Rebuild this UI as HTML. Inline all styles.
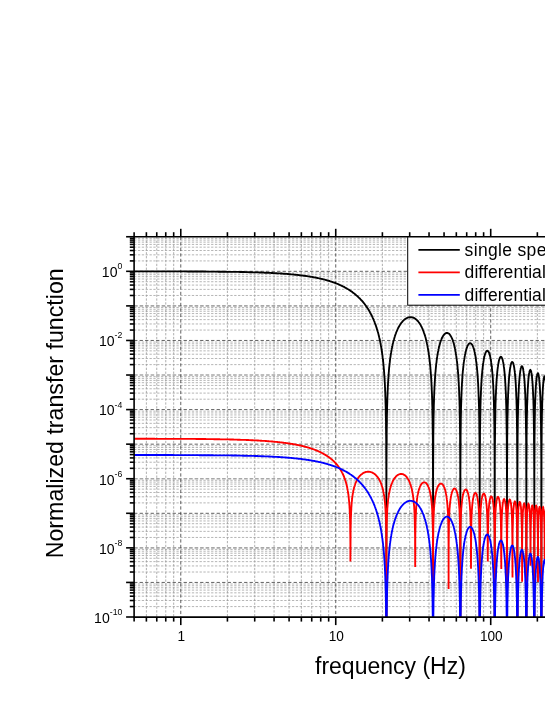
<!DOCTYPE html>
<html><head><meta charset="utf-8"><title>chart</title>
<style>
html,body{margin:0;padding:0;background:#fff;}
body{width:545px;height:705px;position:relative;overflow:hidden;font-family:"Liberation Sans",sans-serif;color:#000;}
.t{position:absolute;white-space:nowrap;line-height:1;}
.xl{font-size:13.3px;transform:translateX(-50%);top:629.5px;}
.yl{font-size:13.3px;text-align:right;right:422.5px;}
.yl sup{font-size:9px;vertical-align:baseline;position:relative;top:-5.5px;}
.lg{font-size:16.2px;left:464.3px;}
</style></head><body>
<svg width="545" height="705" viewBox="0 0 545 705" style="position:absolute;left:0;top:0">
<defs><clipPath id="c"><rect x="134.1" y="236.8" width="420" height="380.4"/></clipPath></defs>
<g shape-rendering="auto"><line x1="134.1" x2="545" y1="606.59" y2="606.59" stroke="#979797" stroke-width="0.7" stroke-dasharray="2.3 1.55"/><line x1="134.1" x2="545" y1="600.51" y2="600.51" stroke="#979797" stroke-width="0.7" stroke-dasharray="2.3 1.55"/><line x1="134.1" x2="545" y1="596.19" y2="596.19" stroke="#979797" stroke-width="0.7" stroke-dasharray="2.3 1.55"/><line x1="134.1" x2="545" y1="592.84" y2="592.84" stroke="#979797" stroke-width="0.7" stroke-dasharray="2.3 1.55"/><line x1="134.1" x2="545" y1="590.10" y2="590.10" stroke="#979797" stroke-width="0.7" stroke-dasharray="2.3 1.55"/><line x1="134.1" x2="545" y1="587.79" y2="587.79" stroke="#979797" stroke-width="0.7" stroke-dasharray="2.3 1.55"/><line x1="134.1" x2="545" y1="585.78" y2="585.78" stroke="#979797" stroke-width="0.7" stroke-dasharray="2.3 1.55"/><line x1="134.1" x2="545" y1="584.01" y2="584.01" stroke="#979797" stroke-width="0.7" stroke-dasharray="2.3 1.55"/><line x1="134.1" x2="545" y1="572.03" y2="572.03" stroke="#979797" stroke-width="0.7" stroke-dasharray="2.3 1.55"/><line x1="134.1" x2="545" y1="565.94" y2="565.94" stroke="#979797" stroke-width="0.7" stroke-dasharray="2.3 1.55"/><line x1="134.1" x2="545" y1="561.62" y2="561.62" stroke="#979797" stroke-width="0.7" stroke-dasharray="2.3 1.55"/><line x1="134.1" x2="545" y1="558.27" y2="558.27" stroke="#979797" stroke-width="0.7" stroke-dasharray="2.3 1.55"/><line x1="134.1" x2="545" y1="555.53" y2="555.53" stroke="#979797" stroke-width="0.7" stroke-dasharray="2.3 1.55"/><line x1="134.1" x2="545" y1="553.22" y2="553.22" stroke="#979797" stroke-width="0.7" stroke-dasharray="2.3 1.55"/><line x1="134.1" x2="545" y1="551.21" y2="551.21" stroke="#979797" stroke-width="0.7" stroke-dasharray="2.3 1.55"/><line x1="134.1" x2="545" y1="549.45" y2="549.45" stroke="#979797" stroke-width="0.7" stroke-dasharray="2.3 1.55"/><line x1="134.1" x2="545" y1="537.46" y2="537.46" stroke="#979797" stroke-width="0.7" stroke-dasharray="2.3 1.55"/><line x1="134.1" x2="545" y1="531.37" y2="531.37" stroke="#979797" stroke-width="0.7" stroke-dasharray="2.3 1.55"/><line x1="134.1" x2="545" y1="527.05" y2="527.05" stroke="#979797" stroke-width="0.7" stroke-dasharray="2.3 1.55"/><line x1="134.1" x2="545" y1="523.70" y2="523.70" stroke="#979797" stroke-width="0.7" stroke-dasharray="2.3 1.55"/><line x1="134.1" x2="545" y1="520.96" y2="520.96" stroke="#979797" stroke-width="0.7" stroke-dasharray="2.3 1.55"/><line x1="134.1" x2="545" y1="518.65" y2="518.65" stroke="#979797" stroke-width="0.7" stroke-dasharray="2.3 1.55"/><line x1="134.1" x2="545" y1="516.65" y2="516.65" stroke="#979797" stroke-width="0.7" stroke-dasharray="2.3 1.55"/><line x1="134.1" x2="545" y1="514.88" y2="514.88" stroke="#979797" stroke-width="0.7" stroke-dasharray="2.3 1.55"/><line x1="134.1" x2="545" y1="502.89" y2="502.89" stroke="#979797" stroke-width="0.7" stroke-dasharray="2.3 1.55"/><line x1="134.1" x2="545" y1="496.80" y2="496.80" stroke="#979797" stroke-width="0.7" stroke-dasharray="2.3 1.55"/><line x1="134.1" x2="545" y1="492.48" y2="492.48" stroke="#979797" stroke-width="0.7" stroke-dasharray="2.3 1.55"/><line x1="134.1" x2="545" y1="489.13" y2="489.13" stroke="#979797" stroke-width="0.7" stroke-dasharray="2.3 1.55"/><line x1="134.1" x2="545" y1="486.40" y2="486.40" stroke="#979797" stroke-width="0.7" stroke-dasharray="2.3 1.55"/><line x1="134.1" x2="545" y1="484.08" y2="484.08" stroke="#979797" stroke-width="0.7" stroke-dasharray="2.3 1.55"/><line x1="134.1" x2="545" y1="482.08" y2="482.08" stroke="#979797" stroke-width="0.7" stroke-dasharray="2.3 1.55"/><line x1="134.1" x2="545" y1="480.31" y2="480.31" stroke="#979797" stroke-width="0.7" stroke-dasharray="2.3 1.55"/><line x1="134.1" x2="545" y1="468.32" y2="468.32" stroke="#979797" stroke-width="0.7" stroke-dasharray="2.3 1.55"/><line x1="134.1" x2="545" y1="462.23" y2="462.23" stroke="#979797" stroke-width="0.7" stroke-dasharray="2.3 1.55"/><line x1="134.1" x2="545" y1="457.92" y2="457.92" stroke="#979797" stroke-width="0.7" stroke-dasharray="2.3 1.55"/><line x1="134.1" x2="545" y1="454.57" y2="454.57" stroke="#979797" stroke-width="0.7" stroke-dasharray="2.3 1.55"/><line x1="134.1" x2="545" y1="451.83" y2="451.83" stroke="#979797" stroke-width="0.7" stroke-dasharray="2.3 1.55"/><line x1="134.1" x2="545" y1="449.51" y2="449.51" stroke="#979797" stroke-width="0.7" stroke-dasharray="2.3 1.55"/><line x1="134.1" x2="545" y1="447.51" y2="447.51" stroke="#979797" stroke-width="0.7" stroke-dasharray="2.3 1.55"/><line x1="134.1" x2="545" y1="445.74" y2="445.74" stroke="#979797" stroke-width="0.7" stroke-dasharray="2.3 1.55"/><line x1="134.1" x2="545" y1="433.75" y2="433.75" stroke="#979797" stroke-width="0.7" stroke-dasharray="2.3 1.55"/><line x1="134.1" x2="545" y1="427.67" y2="427.67" stroke="#979797" stroke-width="0.7" stroke-dasharray="2.3 1.55"/><line x1="134.1" x2="545" y1="423.35" y2="423.35" stroke="#979797" stroke-width="0.7" stroke-dasharray="2.3 1.55"/><line x1="134.1" x2="545" y1="420.00" y2="420.00" stroke="#979797" stroke-width="0.7" stroke-dasharray="2.3 1.55"/><line x1="134.1" x2="545" y1="417.26" y2="417.26" stroke="#979797" stroke-width="0.7" stroke-dasharray="2.3 1.55"/><line x1="134.1" x2="545" y1="414.95" y2="414.95" stroke="#979797" stroke-width="0.7" stroke-dasharray="2.3 1.55"/><line x1="134.1" x2="545" y1="412.94" y2="412.94" stroke="#979797" stroke-width="0.7" stroke-dasharray="2.3 1.55"/><line x1="134.1" x2="545" y1="411.17" y2="411.17" stroke="#979797" stroke-width="0.7" stroke-dasharray="2.3 1.55"/><line x1="134.1" x2="545" y1="399.19" y2="399.19" stroke="#979797" stroke-width="0.7" stroke-dasharray="2.3 1.55"/><line x1="134.1" x2="545" y1="393.10" y2="393.10" stroke="#979797" stroke-width="0.7" stroke-dasharray="2.3 1.55"/><line x1="134.1" x2="545" y1="388.78" y2="388.78" stroke="#979797" stroke-width="0.7" stroke-dasharray="2.3 1.55"/><line x1="134.1" x2="545" y1="385.43" y2="385.43" stroke="#979797" stroke-width="0.7" stroke-dasharray="2.3 1.55"/><line x1="134.1" x2="545" y1="382.69" y2="382.69" stroke="#979797" stroke-width="0.7" stroke-dasharray="2.3 1.55"/><line x1="134.1" x2="545" y1="380.38" y2="380.38" stroke="#979797" stroke-width="0.7" stroke-dasharray="2.3 1.55"/><line x1="134.1" x2="545" y1="378.37" y2="378.37" stroke="#979797" stroke-width="0.7" stroke-dasharray="2.3 1.55"/><line x1="134.1" x2="545" y1="376.61" y2="376.61" stroke="#979797" stroke-width="0.7" stroke-dasharray="2.3 1.55"/><line x1="134.1" x2="545" y1="364.62" y2="364.62" stroke="#979797" stroke-width="0.7" stroke-dasharray="2.3 1.55"/><line x1="134.1" x2="545" y1="358.53" y2="358.53" stroke="#979797" stroke-width="0.7" stroke-dasharray="2.3 1.55"/><line x1="134.1" x2="545" y1="354.21" y2="354.21" stroke="#979797" stroke-width="0.7" stroke-dasharray="2.3 1.55"/><line x1="134.1" x2="545" y1="350.86" y2="350.86" stroke="#979797" stroke-width="0.7" stroke-dasharray="2.3 1.55"/><line x1="134.1" x2="545" y1="348.12" y2="348.12" stroke="#979797" stroke-width="0.7" stroke-dasharray="2.3 1.55"/><line x1="134.1" x2="545" y1="345.81" y2="345.81" stroke="#979797" stroke-width="0.7" stroke-dasharray="2.3 1.55"/><line x1="134.1" x2="545" y1="343.81" y2="343.81" stroke="#979797" stroke-width="0.7" stroke-dasharray="2.3 1.55"/><line x1="134.1" x2="545" y1="342.04" y2="342.04" stroke="#979797" stroke-width="0.7" stroke-dasharray="2.3 1.55"/><line x1="134.1" x2="545" y1="330.05" y2="330.05" stroke="#979797" stroke-width="0.7" stroke-dasharray="2.3 1.55"/><line x1="134.1" x2="545" y1="323.96" y2="323.96" stroke="#979797" stroke-width="0.7" stroke-dasharray="2.3 1.55"/><line x1="134.1" x2="545" y1="319.64" y2="319.64" stroke="#979797" stroke-width="0.7" stroke-dasharray="2.3 1.55"/><line x1="134.1" x2="545" y1="316.29" y2="316.29" stroke="#979797" stroke-width="0.7" stroke-dasharray="2.3 1.55"/><line x1="134.1" x2="545" y1="313.56" y2="313.56" stroke="#979797" stroke-width="0.7" stroke-dasharray="2.3 1.55"/><line x1="134.1" x2="545" y1="311.24" y2="311.24" stroke="#979797" stroke-width="0.7" stroke-dasharray="2.3 1.55"/><line x1="134.1" x2="545" y1="309.24" y2="309.24" stroke="#979797" stroke-width="0.7" stroke-dasharray="2.3 1.55"/><line x1="134.1" x2="545" y1="307.47" y2="307.47" stroke="#979797" stroke-width="0.7" stroke-dasharray="2.3 1.55"/><line x1="134.1" x2="545" y1="295.48" y2="295.48" stroke="#979797" stroke-width="0.7" stroke-dasharray="2.3 1.55"/><line x1="134.1" x2="545" y1="289.39" y2="289.39" stroke="#979797" stroke-width="0.7" stroke-dasharray="2.3 1.55"/><line x1="134.1" x2="545" y1="285.08" y2="285.08" stroke="#979797" stroke-width="0.7" stroke-dasharray="2.3 1.55"/><line x1="134.1" x2="545" y1="281.73" y2="281.73" stroke="#979797" stroke-width="0.7" stroke-dasharray="2.3 1.55"/><line x1="134.1" x2="545" y1="278.99" y2="278.99" stroke="#979797" stroke-width="0.7" stroke-dasharray="2.3 1.55"/><line x1="134.1" x2="545" y1="276.67" y2="276.67" stroke="#979797" stroke-width="0.7" stroke-dasharray="2.3 1.55"/><line x1="134.1" x2="545" y1="274.67" y2="274.67" stroke="#979797" stroke-width="0.7" stroke-dasharray="2.3 1.55"/><line x1="134.1" x2="545" y1="272.90" y2="272.90" stroke="#979797" stroke-width="0.7" stroke-dasharray="2.3 1.55"/><line x1="134.1" x2="545" y1="260.91" y2="260.91" stroke="#979797" stroke-width="0.7" stroke-dasharray="2.3 1.55"/><line x1="134.1" x2="545" y1="254.83" y2="254.83" stroke="#979797" stroke-width="0.7" stroke-dasharray="2.3 1.55"/><line x1="134.1" x2="545" y1="250.51" y2="250.51" stroke="#979797" stroke-width="0.7" stroke-dasharray="2.3 1.55"/><line x1="134.1" x2="545" y1="247.16" y2="247.16" stroke="#979797" stroke-width="0.7" stroke-dasharray="2.3 1.55"/><line x1="134.1" x2="545" y1="244.42" y2="244.42" stroke="#979797" stroke-width="0.7" stroke-dasharray="2.3 1.55"/><line x1="134.1" x2="545" y1="242.11" y2="242.11" stroke="#979797" stroke-width="0.7" stroke-dasharray="2.3 1.55"/><line x1="134.1" x2="545" y1="240.10" y2="240.10" stroke="#979797" stroke-width="0.7" stroke-dasharray="2.3 1.55"/><line x1="134.1" x2="545" y1="238.33" y2="238.33" stroke="#979797" stroke-width="0.7" stroke-dasharray="2.3 1.55"/><line y1="236.8" y2="617.1" x1="146.39" x2="146.39" stroke="#9a9a9a" stroke-width="0.8" stroke-dasharray="2.3 1.55"/><line y1="236.8" y2="617.1" x1="156.76" x2="156.76" stroke="#9a9a9a" stroke-width="0.8" stroke-dasharray="2.3 1.55"/><line y1="236.8" y2="617.1" x1="165.75" x2="165.75" stroke="#9a9a9a" stroke-width="0.8" stroke-dasharray="2.3 1.55"/><line y1="236.8" y2="617.1" x1="173.68" x2="173.68" stroke="#9a9a9a" stroke-width="0.8" stroke-dasharray="2.3 1.55"/><line y1="236.8" y2="617.1" x1="227.42" x2="227.42" stroke="#9a9a9a" stroke-width="0.8" stroke-dasharray="2.3 1.55"/><line y1="236.8" y2="617.1" x1="254.71" x2="254.71" stroke="#9a9a9a" stroke-width="0.8" stroke-dasharray="2.3 1.55"/><line y1="236.8" y2="617.1" x1="274.07" x2="274.07" stroke="#9a9a9a" stroke-width="0.8" stroke-dasharray="2.3 1.55"/><line y1="236.8" y2="617.1" x1="289.09" x2="289.09" stroke="#9a9a9a" stroke-width="0.8" stroke-dasharray="2.3 1.55"/><line y1="236.8" y2="617.1" x1="301.36" x2="301.36" stroke="#9a9a9a" stroke-width="0.8" stroke-dasharray="2.3 1.55"/><line y1="236.8" y2="617.1" x1="311.73" x2="311.73" stroke="#9a9a9a" stroke-width="0.8" stroke-dasharray="2.3 1.55"/><line y1="236.8" y2="617.1" x1="320.72" x2="320.72" stroke="#9a9a9a" stroke-width="0.8" stroke-dasharray="2.3 1.55"/><line y1="236.8" y2="617.1" x1="328.65" x2="328.65" stroke="#9a9a9a" stroke-width="0.8" stroke-dasharray="2.3 1.55"/><line y1="236.8" y2="617.1" x1="382.39" x2="382.39" stroke="#9a9a9a" stroke-width="0.8" stroke-dasharray="2.3 1.55"/><line y1="236.8" y2="617.1" x1="409.68" x2="409.68" stroke="#9a9a9a" stroke-width="0.8" stroke-dasharray="2.3 1.55"/><line y1="236.8" y2="617.1" x1="429.04" x2="429.04" stroke="#9a9a9a" stroke-width="0.8" stroke-dasharray="2.3 1.55"/><line y1="236.8" y2="617.1" x1="444.06" x2="444.06" stroke="#9a9a9a" stroke-width="0.8" stroke-dasharray="2.3 1.55"/><line y1="236.8" y2="617.1" x1="456.33" x2="456.33" stroke="#9a9a9a" stroke-width="0.8" stroke-dasharray="2.3 1.55"/><line y1="236.8" y2="617.1" x1="466.70" x2="466.70" stroke="#9a9a9a" stroke-width="0.8" stroke-dasharray="2.3 1.55"/><line y1="236.8" y2="617.1" x1="475.69" x2="475.69" stroke="#9a9a9a" stroke-width="0.8" stroke-dasharray="2.3 1.55"/><line y1="236.8" y2="617.1" x1="483.62" x2="483.62" stroke="#9a9a9a" stroke-width="0.8" stroke-dasharray="2.3 1.55"/><line y1="236.8" y2="617.1" x1="537.36" x2="537.36" stroke="#9a9a9a" stroke-width="0.8" stroke-dasharray="2.3 1.55"/><line x1="134.1" x2="545" y1="305.89" y2="305.89" stroke="#a8a8a8" stroke-width="1.6" stroke-dasharray="3.6 1.9"/><line x1="134.1" x2="545" y1="375.02" y2="375.02" stroke="#a8a8a8" stroke-width="1.6" stroke-dasharray="3.6 1.9"/><line x1="134.1" x2="545" y1="478.73" y2="478.73" stroke="#a8a8a8" stroke-width="1.6" stroke-dasharray="3.6 1.9"/><line x1="134.1" x2="545" y1="547.86" y2="547.86" stroke="#a8a8a8" stroke-width="1.6" stroke-dasharray="3.6 1.9"/><line x1="134.1" x2="545" y1="271.32" y2="271.32" stroke="#3a3a3a" stroke-width="0.8" stroke-dasharray="3.3 2.2"/><line x1="134.1" x2="545" y1="340.46" y2="340.46" stroke="#3a3a3a" stroke-width="0.8" stroke-dasharray="3.3 2.2"/><line x1="134.1" x2="545" y1="409.59" y2="409.59" stroke="#3a3a3a" stroke-width="0.8" stroke-dasharray="3.3 2.2"/><line x1="134.1" x2="545" y1="444.16" y2="444.16" stroke="#3a3a3a" stroke-width="0.8" stroke-dasharray="3.3 2.2"/><line x1="134.1" x2="545" y1="513.30" y2="513.30" stroke="#3a3a3a" stroke-width="0.8" stroke-dasharray="3.3 2.2"/><line x1="134.1" x2="545" y1="582.43" y2="582.43" stroke="#3a3a3a" stroke-width="0.8" stroke-dasharray="3.3 2.2"/><line y1="236.8" y2="617.1" x1="180.77" x2="180.77" stroke="#3a3a3a" stroke-width="0.8" stroke-dasharray="3.3 2.2"/><line y1="236.8" y2="617.1" x1="335.74" x2="335.74" stroke="#3a3a3a" stroke-width="0.8" stroke-dasharray="3.3 2.2"/><line y1="236.8" y2="617.1" x1="490.71" x2="490.71" stroke="#3a3a3a" stroke-width="0.8" stroke-dasharray="3.3 2.2"/></g>
<g clip-path="url(#c)" fill="none" stroke-width="1.85" stroke-linejoin="miter" stroke-miterlimit="10">
<path d="M134.1 271.3 L134.5 271.3 L135.0 271.3 L135.4 271.3 L135.8 271.3 L136.2 271.3 L136.6 271.3 L137.0 271.3 L137.4 271.4 L137.9 271.4 L138.3 271.4 L138.7 271.4 L139.1 271.4 L139.5 271.4 L139.9 271.4 L140.4 271.4 L140.8 271.4 L141.2 271.4 L141.6 271.4 L142.0 271.4 L142.4 271.4 L142.8 271.4 L143.3 271.4 L143.7 271.4 L144.1 271.4 L144.5 271.4 L144.9 271.4 L145.3 271.4 L145.8 271.4 L146.2 271.4 L146.6 271.4 L147.0 271.4 L147.4 271.4 L147.8 271.4 L148.2 271.4 L148.7 271.4 L149.1 271.4 L149.5 271.4 L149.9 271.4 L150.3 271.4 L150.7 271.4 L151.2 271.4 L151.6 271.4 L152.0 271.4 L152.4 271.4 L152.8 271.4 L153.2 271.4 L153.7 271.4 L154.1 271.4 L154.5 271.4 L154.9 271.4 L155.3 271.4 L155.7 271.4 L156.1 271.4 L156.6 271.4 L157.0 271.4 L157.4 271.4 L157.8 271.4 L158.2 271.4 L158.6 271.4 L159.1 271.4 L159.5 271.4 L159.9 271.4 L160.3 271.4 L160.7 271.4 L161.1 271.4 L161.5 271.4 L162.0 271.4 L162.4 271.4 L162.8 271.4 L163.2 271.4 L163.6 271.4 L164.0 271.4 L164.5 271.4 L164.9 271.4 L165.3 271.4 L165.7 271.4 L166.1 271.4 L166.5 271.4 L167.0 271.4 L167.4 271.4 L167.8 271.4 L168.2 271.4 L168.6 271.4 L169.0 271.4 L169.4 271.4 L169.9 271.4 L170.3 271.4 L170.7 271.4 L171.1 271.4 L171.5 271.4 L171.9 271.4 L172.4 271.4 L172.8 271.4 L173.2 271.4 L173.6 271.4 L174.0 271.4 L174.4 271.4 L174.8 271.4 L175.3 271.4 L175.7 271.4 L176.1 271.4 L176.5 271.4 L176.9 271.4 L177.3 271.4 L177.8 271.4 L178.2 271.4 L178.6 271.4 L179.0 271.4 L179.4 271.4 L179.8 271.4 L180.2 271.4 L180.7 271.4 L181.1 271.4 L181.5 271.4 L181.9 271.4 L182.3 271.4 L182.7 271.4 L183.2 271.4 L183.6 271.4 L184.0 271.4 L184.4 271.4 L184.8 271.4 L185.2 271.4 L185.7 271.4 L186.1 271.4 L186.5 271.4 L186.9 271.5 L187.3 271.5 L187.7 271.5 L188.1 271.5 L188.6 271.5 L189.0 271.5 L189.4 271.5 L189.8 271.5 L190.2 271.5 L190.6 271.5 L191.1 271.5 L191.5 271.5 L191.9 271.5 L192.3 271.5 L192.7 271.5 L193.1 271.5 L193.5 271.5 L194.0 271.5 L194.4 271.5 L194.8 271.5 L195.2 271.5 L195.6 271.5 L196.0 271.5 L196.5 271.5 L196.9 271.5 L197.3 271.5 L197.7 271.5 L198.1 271.5 L198.5 271.5 L199.0 271.5 L199.4 271.5 L199.8 271.5 L200.2 271.5 L200.6 271.5 L201.0 271.5 L201.4 271.5 L201.9 271.5 L202.3 271.5 L202.7 271.5 L203.1 271.5 L203.5 271.5 L203.9 271.5 L204.4 271.5 L204.8 271.5 L205.2 271.5 L205.6 271.5 L206.0 271.6 L206.4 271.6 L206.8 271.6 L207.3 271.6 L207.7 271.6 L208.1 271.6 L208.5 271.6 L208.9 271.6 L209.3 271.6 L209.8 271.6 L210.2 271.6 L210.6 271.6 L211.0 271.6 L211.4 271.6 L211.8 271.6 L212.2 271.6 L212.7 271.6 L213.1 271.6 L213.5 271.6 L213.9 271.6 L214.3 271.6 L214.7 271.6 L215.2 271.6 L215.6 271.6 L216.0 271.6 L216.4 271.6 L216.8 271.6 L217.2 271.6 L217.7 271.6 L218.1 271.7 L218.5 271.7 L218.9 271.7 L219.3 271.7 L219.7 271.7 L220.1 271.7 L220.6 271.7 L221.0 271.7 L221.4 271.7 L221.8 271.7 L222.2 271.7 L222.6 271.7 L223.1 271.7 L223.5 271.7 L223.9 271.7 L224.3 271.7 L224.7 271.7 L225.1 271.7 L225.5 271.7 L226.0 271.7 L226.4 271.7 L226.8 271.8 L227.2 271.8 L227.6 271.8 L228.0 271.8 L228.5 271.8 L228.9 271.8 L229.3 271.8 L229.7 271.8 L230.1 271.8 L230.5 271.8 L230.9 271.8 L231.4 271.8 L231.8 271.8 L232.2 271.8 L232.6 271.8 L233.0 271.8 L233.4 271.8 L233.9 271.9 L234.3 271.9 L234.7 271.9 L235.1 271.9 L235.5 271.9 L235.9 271.9 L236.4 271.9 L236.8 271.9 L237.2 271.9 L237.6 271.9 L238.0 271.9 L238.4 271.9 L238.8 271.9 L239.3 271.9 L239.7 272.0 L240.1 272.0 L240.5 272.0 L240.9 272.0 L241.3 272.0 L241.8 272.0 L242.2 272.0 L242.6 272.0 L243.0 272.0 L243.4 272.0 L243.8 272.0 L244.2 272.0 L244.7 272.1 L245.1 272.1 L245.5 272.1 L245.9 272.1 L246.3 272.1 L246.7 272.1 L247.2 272.1 L247.6 272.1 L248.0 272.1 L248.4 272.1 L248.8 272.2 L249.2 272.2 L249.7 272.2 L250.1 272.2 L250.5 272.2 L250.9 272.2 L251.3 272.2 L251.7 272.2 L252.1 272.2 L252.6 272.3 L253.0 272.3 L253.4 272.3 L253.8 272.3 L254.2 272.3 L254.6 272.3 L255.1 272.3 L255.5 272.3 L255.9 272.3 L256.3 272.4 L256.7 272.4 L257.1 272.4 L257.5 272.4 L258.0 272.4 L258.4 272.4 L258.8 272.4 L259.2 272.5 L259.6 272.5 L260.0 272.5 L260.5 272.5 L260.9 272.5 L261.3 272.5 L261.7 272.5 L262.1 272.6 L262.5 272.6 L262.9 272.6 L263.4 272.6 L263.8 272.6 L264.2 272.6 L264.6 272.7 L265.0 272.7 L265.4 272.7 L265.9 272.7 L266.3 272.7 L266.7 272.7 L267.1 272.8 L267.5 272.8 L267.9 272.8 L268.4 272.8 L268.8 272.8 L269.2 272.9 L269.6 272.9 L270.0 272.9 L270.4 272.9 L270.8 272.9 L271.3 273.0 L271.7 273.0 L272.1 273.0 L272.5 273.0 L272.9 273.0 L273.3 273.1 L273.8 273.1 L274.2 273.1 L274.6 273.1 L275.0 273.1 L275.4 273.2 L275.8 273.2 L276.2 273.2 L276.7 273.2 L277.1 273.3 L277.5 273.3 L277.9 273.3 L278.3 273.3 L278.7 273.4 L279.2 273.4 L279.6 273.4 L280.0 273.4 L280.4 273.5 L280.8 273.5 L281.2 273.5 L281.7 273.5 L282.1 273.6 L282.5 273.6 L282.9 273.6 L283.3 273.7 L283.7 273.7 L284.1 273.7 L284.6 273.8 L285.0 273.8 L285.4 273.8 L285.8 273.8 L286.2 273.9 L286.6 273.9 L287.1 273.9 L287.5 274.0 L287.9 274.0 L288.3 274.0 L288.7 274.1 L289.1 274.1 L289.5 274.2 L290.0 274.2 L290.4 274.2 L290.8 274.3 L291.2 274.3 L291.6 274.3 L292.0 274.4 L292.5 274.4 L292.9 274.5 L293.3 274.5 L293.7 274.5 L294.1 274.6 L294.5 274.6 L294.9 274.7 L295.4 274.7 L295.8 274.7 L296.2 274.8 L296.6 274.8 L297.0 274.9 L297.4 274.9 L297.9 275.0 L298.3 275.0 L298.7 275.1 L299.1 275.1 L299.5 275.2 L299.9 275.2 L300.4 275.3 L300.8 275.3 L301.2 275.4 L301.6 275.4 L302.0 275.5 L302.4 275.5 L302.8 275.6 L303.3 275.6 L303.7 275.7 L304.1 275.7 L304.5 275.8 L304.9 275.8 L305.3 275.9 L305.8 276.0 L306.2 276.0 L306.6 276.1 L307.0 276.1 L307.4 276.2 L307.8 276.3 L308.2 276.3 L308.7 276.4 L309.1 276.5 L309.5 276.5 L309.9 276.6 L310.3 276.7 L310.7 276.7 L311.2 276.8 L311.6 276.9 L312.0 276.9 L312.4 277.0 L312.8 277.1 L313.2 277.2 L313.7 277.2 L314.1 277.3 L314.5 277.4 L314.9 277.5 L315.3 277.5 L315.7 277.6 L316.1 277.7 L316.6 277.8 L317.0 277.9 L317.4 278.0 L317.8 278.1 L318.2 278.1 L318.6 278.2 L319.1 278.3 L319.5 278.4 L319.9 278.5 L320.3 278.6 L320.7 278.7 L321.1 278.8 L321.5 278.9 L322.0 279.0 L322.4 279.1 L322.8 279.2 L323.2 279.3 L323.6 279.4 L324.0 279.5 L324.5 279.6 L324.9 279.7 L325.3 279.8 L325.7 279.9 L326.1 280.1 L326.5 280.2 L326.9 280.3 L327.4 280.4 L327.8 280.5 L328.2 280.7 L328.6 280.8 L329.0 280.9 L329.4 281.0 L329.9 281.2 L330.3 281.3 L330.7 281.4 L331.1 281.6 L331.5 281.7 L331.9 281.8 L332.4 282.0 L332.8 282.1 L333.2 282.3 L333.6 282.4 L334.0 282.6 L334.4 282.7 L334.8 282.9 L335.3 283.0 L335.7 283.2 L336.1 283.3 L336.5 283.5 L336.9 283.7 L337.3 283.8 L337.8 284.0 L338.2 284.2 L338.6 284.4 L339.0 284.5 L339.4 284.7 L339.8 284.9 L340.2 285.1 L340.7 285.3 L341.1 285.5 L341.5 285.7 L341.9 285.9 L342.3 286.1 L342.7 286.3 L343.2 286.5 L343.6 286.7 L344.0 286.9 L344.4 287.1 L344.8 287.4 L345.2 287.6 L345.7 287.8 L346.1 288.1 L346.5 288.3 L346.9 288.5 L347.3 288.8 L347.7 289.0 L348.1 289.3 L348.6 289.5 L349.0 289.8 L349.4 290.1 L349.8 290.3 L350.2 290.6 L350.6 290.9 L351.1 291.2 L351.5 291.5 L351.9 291.8 L352.3 292.1 L352.7 292.4 L353.1 292.7 L353.5 293.0 L354.0 293.3 L354.4 293.6 L354.8 294.0 L355.2 294.3 L355.6 294.7 L356.0 295.0 L356.5 295.4 L356.9 295.7 L357.3 296.1 L357.7 296.5 L358.1 296.9 L358.5 297.3 L358.9 297.7 L359.4 298.1 L359.8 298.5 L360.2 298.9 L360.6 299.4 L361.0 299.8 L361.4 300.3 L361.9 300.7 L362.3 301.2 L362.7 301.7 L363.1 302.2 L363.5 302.7 L363.9 303.2 L364.4 303.7 L364.8 304.3 L365.2 304.8 L365.6 305.4 L366.0 306.0 L366.4 306.6 L366.8 307.2 L367.3 307.8 L367.7 308.4 L368.1 309.1 L368.5 309.7 L368.9 310.4 L369.3 311.1 L369.7 311.8 L370.0 312.4 L370.4 313.0 L370.7 313.7 L371.1 314.3 L371.4 315.0 L371.8 315.7 L372.1 316.4 L372.5 317.2 L372.7 317.8 L373.0 318.4 L373.3 319.0 L373.6 319.6 L373.8 320.3 L374.1 321.0 L374.4 321.7 L374.7 322.4 L374.9 323.1 L375.2 323.9 L375.5 324.6 L375.8 325.4 L376.0 326.0 L376.2 326.6 L376.4 327.2 L376.6 327.9 L376.8 328.5 L377.0 329.2 L377.2 329.9 L377.4 330.6 L377.6 331.3 L377.9 332.1 L378.1 332.8 L378.3 333.6 L378.5 334.4 L378.7 335.2 L378.9 336.0 L379.1 336.9 L379.3 337.8 L379.5 338.4 L379.6 339.0 L379.7 339.6 L379.9 340.3 L380.0 340.9 L380.1 341.6 L380.3 342.3 L380.4 343.0 L380.6 343.7 L380.7 344.4 L380.8 345.2 L381.0 346.0 L381.1 346.8 L381.3 347.6 L381.4 348.4 L381.5 349.3 L381.7 350.1 L381.8 351.1 L381.9 352.0 L382.1 353.0 L382.2 354.0 L382.4 355.0 L382.5 356.1 L382.6 357.2 L382.8 358.3 L382.9 359.5 L383.0 360.1 L383.1 360.7 L383.1 361.4 L383.2 362.0 L383.3 362.7 L383.3 363.4 L383.4 364.1 L383.5 364.8 L383.5 365.5 L383.6 366.2 L383.7 367.0 L383.7 367.8 L383.8 368.6 L383.9 369.4 L384.0 370.3 L384.0 371.1 L384.1 372.0 L384.2 372.9 L384.2 373.9 L384.3 374.9 L384.4 375.9 L384.4 377.0 L384.5 378.0 L384.6 379.2 L384.6 380.3 L384.7 381.6 L384.8 382.8 L384.9 384.1 L384.9 385.5 L385.0 387.0 L385.1 388.5 L385.1 390.1 L385.2 391.8 L385.3 393.6 L385.3 395.5 L385.4 397.5 L385.5 399.7 L385.5 402.0 L385.6 404.5 L385.7 407.3 L385.8 410.3 L385.8 413.7 L385.9 417.5 L386.0 421.9 L386.0 426.9 L386.1 433.1 L386.2 440.7 L386.2 451.1 L386.3 467.0 L386.4 502.7 L386.4 622.1 L386.4 495.1 L386.5 464.5 L386.6 449.6 L386.7 439.8 L386.7 432.4 L386.8 426.4 L386.9 421.5 L386.9 417.2 L387.0 413.5 L387.1 410.2 L387.1 407.3 L387.2 404.6 L387.3 402.1 L387.3 399.8 L387.4 397.7 L387.5 395.7 L387.6 393.8 L387.6 392.1 L387.7 390.5 L387.8 388.9 L387.8 387.4 L387.9 386.0 L388.0 384.7 L388.0 383.4 L388.1 382.2 L388.2 381.0 L388.2 379.8 L388.3 378.8 L388.4 377.7 L388.5 376.7 L388.5 375.7 L388.6 374.8 L388.7 373.8 L388.7 373.0 L388.8 372.1 L388.9 371.3 L388.9 370.4 L389.0 369.6 L389.1 368.9 L389.1 368.1 L389.2 367.4 L389.3 366.7 L389.4 366.0 L389.4 365.3 L389.5 364.7 L389.6 364.0 L389.6 363.4 L389.7 362.8 L389.8 362.2 L389.9 361.0 L390.0 359.9 L390.2 358.8 L390.3 357.7 L390.5 356.8 L390.6 355.8 L390.7 354.9 L390.9 354.0 L391.0 353.1 L391.2 352.2 L391.3 351.4 L391.4 350.6 L391.6 349.9 L391.7 349.1 L391.8 348.4 L392.0 347.7 L392.1 347.0 L392.3 346.3 L392.4 345.7 L392.5 345.0 L392.7 344.4 L392.8 343.8 L393.0 343.0 L393.2 342.1 L393.4 341.3 L393.6 340.5 L393.9 339.7 L394.1 339.0 L394.3 338.3 L394.5 337.6 L394.7 336.9 L394.9 336.3 L395.1 335.6 L395.3 335.0 L395.6 334.2 L395.9 333.5 L396.1 332.7 L396.4 332.0 L396.7 331.3 L397.0 330.7 L397.3 330.0 L397.5 329.4 L397.9 328.7 L398.2 328.0 L398.6 327.3 L398.9 326.7 L399.3 326.1 L399.7 325.4 L400.1 324.7 L400.5 324.1 L400.9 323.5 L401.3 322.9 L401.8 322.4 L402.2 321.9 L402.6 321.4 L403.0 321.0 L403.4 320.5 L403.8 320.1 L404.2 319.8 L404.7 319.4 L405.1 319.1 L405.5 318.8 L405.9 318.6 L406.3 318.3 L406.7 318.1 L407.2 317.9 L407.6 317.7 L408.0 317.6 L408.4 317.5 L408.8 317.3 L409.2 317.3 L409.6 317.2 L410.1 317.2 L410.5 317.2 L410.9 317.2 L411.3 317.2 L411.7 317.3 L412.1 317.3 L412.6 317.5 L413.0 317.6 L413.4 317.7 L413.8 317.9 L414.2 318.1 L414.6 318.4 L415.1 318.6 L415.5 318.9 L415.9 319.2 L416.3 319.5 L416.7 319.9 L417.1 320.3 L417.5 320.8 L418.0 321.2 L418.4 321.7 L418.8 322.3 L419.2 322.8 L419.6 323.4 L420.0 324.1 L420.5 324.8 L420.8 325.4 L421.1 326.0 L421.5 326.7 L421.8 327.4 L422.2 328.1 L422.5 328.8 L422.7 329.4 L423.0 330.1 L423.3 330.8 L423.6 331.5 L423.8 332.3 L424.1 333.1 L424.3 333.7 L424.5 334.3 L424.7 335.0 L425.0 335.6 L425.2 336.4 L425.4 337.1 L425.6 337.8 L425.8 338.6 L426.0 339.4 L426.2 340.2 L426.4 341.1 L426.6 342.0 L426.8 342.6 L426.9 343.2 L427.0 343.9 L427.2 344.6 L427.3 345.2 L427.5 345.9 L427.6 346.7 L427.7 347.4 L427.9 348.2 L428.0 349.0 L428.1 349.8 L428.3 350.6 L428.4 351.5 L428.6 352.4 L428.7 353.3 L428.8 354.2 L429.0 355.2 L429.1 356.3 L429.3 357.3 L429.4 358.4 L429.5 359.6 L429.7 360.8 L429.7 361.4 L429.8 362.0 L429.9 362.6 L429.9 363.3 L430.0 364.0 L430.1 364.7 L430.2 365.4 L430.2 366.1 L430.3 366.8 L430.4 367.6 L430.4 368.4 L430.5 369.2 L430.6 370.0 L430.6 370.9 L430.7 371.7 L430.8 372.6 L430.8 373.6 L430.9 374.5 L431.0 375.5 L431.1 376.5 L431.1 377.6 L431.2 378.7 L431.3 379.8 L431.3 381.0 L431.4 382.2 L431.5 383.5 L431.5 384.9 L431.6 386.3 L431.7 387.8 L431.7 389.3 L431.8 390.9 L431.9 392.7 L432.0 394.5 L432.0 396.4 L432.1 398.5 L432.2 400.8 L432.2 403.2 L432.3 405.8 L432.4 408.7 L432.4 411.9 L432.5 415.5 L432.6 419.5 L432.6 424.2 L432.7 429.7 L432.8 436.5 L432.9 445.2 L432.9 457.6 L433.0 479.1 L433.1 622.1 L433.1 574.8 L433.1 476.7 L433.2 456.5 L433.3 444.5 L433.3 436.0 L433.4 429.4 L433.5 424.0 L433.5 419.4 L433.6 415.4 L433.7 411.9 L433.8 408.8 L433.8 406.0 L433.9 403.4 L434.0 401.0 L434.0 398.8 L434.1 396.8 L434.2 394.8 L434.2 393.1 L434.3 391.4 L434.4 389.8 L434.4 388.3 L434.5 386.8 L434.6 385.4 L434.7 384.1 L434.7 382.9 L434.8 381.7 L434.9 380.5 L434.9 379.4 L435.0 378.4 L435.1 377.3 L435.1 376.4 L435.2 375.4 L435.3 374.5 L435.3 373.6 L435.4 372.7 L435.5 371.9 L435.6 371.1 L435.6 370.3 L435.7 369.5 L435.8 368.8 L435.8 368.0 L435.9 367.3 L436.0 366.6 L436.0 366.0 L436.1 365.3 L436.2 364.7 L436.2 364.1 L436.3 363.4 L436.5 362.3 L436.6 361.1 L436.7 360.1 L436.9 359.0 L437.0 358.1 L437.1 357.1 L437.3 356.2 L437.4 355.3 L437.6 354.5 L437.7 353.6 L437.8 352.9 L438.0 352.1 L438.1 351.4 L438.3 350.7 L438.4 350.0 L438.5 349.3 L438.7 348.7 L438.8 348.0 L438.9 347.4 L439.2 346.6 L439.4 345.7 L439.6 344.9 L439.8 344.2 L440.0 343.5 L440.2 342.8 L440.4 342.1 L440.6 341.5 L440.9 340.7 L441.2 340.0 L441.4 339.3 L441.7 338.6 L442.0 338.0 L442.3 337.3 L442.7 336.7 L443.1 335.9 L443.5 335.3 L443.9 334.8 L444.4 334.3 L444.8 333.9 L445.2 333.6 L445.6 333.3 L446.0 333.1 L446.4 333.0 L446.8 333.0 L447.0 333.0 L447.4 333.0 L447.8 333.1 L448.2 333.3 L448.6 333.5 L449.1 333.8 L449.5 334.2 L449.9 334.7 L450.3 335.3 L450.7 335.9 L451.1 336.6 L451.5 337.3 L451.8 338.0 L452.1 338.7 L452.4 339.4 L452.7 340.1 L452.9 340.9 L453.1 341.5 L453.4 342.2 L453.6 342.9 L453.8 343.6 L454.0 344.4 L454.2 345.2 L454.4 346.1 L454.6 347.0 L454.7 347.6 L454.9 348.2 L455.0 348.9 L455.2 349.6 L455.3 350.3 L455.4 351.0 L455.6 351.8 L455.7 352.6 L455.8 353.4 L456.0 354.3 L456.1 355.2 L456.3 356.1 L456.4 357.1 L456.5 358.1 L456.7 359.1 L456.8 360.2 L457.0 361.4 L457.1 362.6 L457.2 363.2 L457.2 363.8 L457.3 364.5 L457.4 365.1 L457.4 365.8 L457.5 366.5 L457.6 367.3 L457.6 368.0 L457.7 368.8 L457.8 369.5 L457.9 370.3 L457.9 371.2 L458.0 372.0 L458.1 372.9 L458.1 373.8 L458.2 374.8 L458.3 375.7 L458.3 376.8 L458.4 377.8 L458.5 378.9 L458.5 380.0 L458.6 381.2 L458.7 382.4 L458.8 383.7 L458.8 385.0 L458.9 386.4 L459.0 387.9 L459.0 389.4 L459.1 391.0 L459.2 392.8 L459.2 394.6 L459.3 396.5 L459.4 398.6 L459.5 400.9 L459.5 403.3 L459.6 405.9 L459.7 408.8 L459.7 412.0 L459.8 415.5 L459.9 419.6 L459.9 424.3 L460.0 429.8 L460.1 436.6 L460.1 445.4 L460.2 457.8 L460.3 479.5 L460.3 622.1 L460.4 565.7 L460.4 476.3 L460.5 456.3 L460.6 444.4 L460.6 435.9 L460.7 429.3 L460.8 423.9 L460.8 419.3 L460.9 415.4 L461.0 411.9 L461.0 408.8 L461.1 406.0 L461.2 403.4 L461.3 401.0 L461.3 398.8 L461.4 396.8 L461.5 394.9 L461.5 393.1 L461.6 391.4 L461.7 389.8 L461.7 388.3 L461.8 386.9 L461.9 385.6 L461.9 384.3 L462.0 383.0 L462.1 381.8 L462.2 380.7 L462.2 379.6 L462.3 378.6 L462.4 377.6 L462.4 376.6 L462.5 375.7 L462.6 374.8 L462.6 373.9 L462.7 373.0 L462.8 372.2 L462.8 371.4 L462.9 370.6 L463.0 369.9 L463.1 369.2 L463.1 368.5 L463.2 367.8 L463.3 367.1 L463.3 366.5 L463.4 365.8 L463.5 365.2 L463.6 364.1 L463.7 362.9 L463.9 361.9 L464.0 360.9 L464.2 359.9 L464.3 359.0 L464.4 358.1 L464.6 357.2 L464.7 356.4 L464.9 355.7 L465.0 354.9 L465.1 354.2 L465.3 353.5 L465.4 352.9 L465.5 352.3 L465.8 351.4 L466.0 350.6 L466.2 349.8 L466.4 349.1 L466.6 348.4 L466.8 347.8 L467.1 347.1 L467.3 346.4 L467.6 345.8 L468.0 345.1 L468.4 344.4 L468.8 343.9 L469.2 343.5 L469.6 343.3 L470.0 343.2 L470.2 343.2 L470.6 343.3 L471.0 343.5 L471.4 343.8 L471.8 344.3 L472.3 345.0 L472.6 345.6 L472.9 346.3 L473.2 346.9 L473.4 347.7 L473.6 348.4 L473.9 349.0 L474.1 349.8 L474.3 350.6 L474.5 351.4 L474.6 352.0 L474.8 352.6 L474.9 353.3 L475.0 354.0 L475.2 354.7 L475.3 355.5 L475.5 356.3 L475.6 357.1 L475.7 358.0 L475.9 358.9 L476.0 359.9 L476.1 360.9 L476.3 361.9 L476.4 363.0 L476.6 364.2 L476.6 364.8 L476.7 365.5 L476.8 366.1 L476.8 366.8 L476.9 367.4 L477.0 368.1 L477.0 368.9 L477.1 369.6 L477.2 370.4 L477.3 371.2 L477.3 372.0 L477.4 372.8 L477.5 373.7 L477.5 374.6 L477.6 375.5 L477.7 376.5 L477.7 377.5 L477.8 378.6 L477.9 379.6 L477.9 380.8 L478.0 382.0 L478.1 383.2 L478.2 384.5 L478.2 385.8 L478.3 387.2 L478.4 388.7 L478.4 390.3 L478.5 391.9 L478.6 393.7 L478.6 395.6 L478.7 397.6 L478.8 399.7 L478.8 402.0 L478.9 404.5 L479.0 407.2 L479.1 410.2 L479.1 413.6 L479.2 417.4 L479.3 421.7 L479.3 426.7 L479.4 432.8 L479.5 440.3 L479.5 450.5 L479.6 466.0 L479.7 499.7 L479.7 622.1 L479.7 497.7 L479.8 465.4 L479.9 450.2 L480.0 440.2 L480.0 432.7 L480.1 426.7 L480.2 421.7 L480.2 417.5 L480.3 413.7 L480.4 410.4 L480.4 407.5 L480.5 404.8 L480.6 402.3 L480.6 400.0 L480.7 397.9 L480.8 396.0 L480.9 394.2 L480.9 392.4 L481.0 390.8 L481.1 389.3 L481.1 387.8 L481.2 386.5 L481.3 385.1 L481.3 383.9 L481.4 382.7 L481.5 381.6 L481.5 380.5 L481.6 379.4 L481.7 378.4 L481.8 377.4 L481.8 376.5 L481.9 375.6 L482.0 374.7 L482.0 373.9 L482.1 373.1 L482.2 372.3 L482.2 371.6 L482.3 370.8 L482.4 370.1 L482.4 369.5 L482.5 368.8 L482.6 368.1 L482.7 367.5 L482.7 366.9 L482.9 365.8 L483.0 364.7 L483.1 363.7 L483.3 362.7 L483.4 361.8 L483.6 360.9 L483.7 360.1 L483.8 359.3 L484.0 358.6 L484.1 357.9 L484.2 357.2 L484.4 356.6 L484.6 355.8 L484.8 355.0 L485.0 354.3 L485.2 353.7 L485.5 352.9 L485.8 352.3 L486.1 351.7 L486.5 351.2 L486.9 350.9 L487.3 350.8 L487.7 350.9 L488.1 351.2 L488.5 351.8 L488.9 352.5 L489.2 353.1 L489.4 353.9 L489.6 354.6 L489.9 355.4 L490.1 356.2 L490.3 357.1 L490.4 357.8 L490.5 358.5 L490.7 359.2 L490.8 360.0 L491.0 360.8 L491.1 361.7 L491.2 362.7 L491.4 363.7 L491.5 364.7 L491.7 365.8 L491.8 367.0 L491.9 367.7 L491.9 368.3 L492.0 369.0 L492.1 369.7 L492.1 370.4 L492.2 371.1 L492.3 371.9 L492.4 372.7 L492.4 373.5 L492.5 374.3 L492.6 375.2 L492.6 376.1 L492.7 377.1 L492.8 378.1 L492.8 379.1 L492.9 380.2 L493.0 381.3 L493.0 382.4 L493.1 383.7 L493.2 384.9 L493.3 386.3 L493.3 387.7 L493.4 389.2 L493.5 390.7 L493.5 392.4 L493.6 394.1 L493.7 396.0 L493.7 398.0 L493.8 400.2 L493.9 402.5 L493.9 405.0 L494.0 407.8 L494.1 410.8 L494.2 414.2 L494.2 418.1 L494.3 422.5 L494.4 427.7 L494.4 434.0 L494.5 441.9 L494.6 452.7 L494.6 469.7 L494.7 513.0 L494.7 622.1 L494.8 489.0 L494.8 462.1 L494.9 448.2 L495.0 438.7 L495.1 431.6 L495.1 425.8 L495.2 421.0 L495.3 416.8 L495.3 413.2 L495.4 409.9 L495.5 407.0 L495.5 404.4 L495.6 402.0 L495.7 399.8 L495.7 397.7 L495.8 395.8 L495.9 394.0 L496.0 392.3 L496.0 390.7 L496.1 389.2 L496.2 387.8 L496.2 386.4 L496.3 385.2 L496.4 384.0 L496.4 382.8 L496.5 381.7 L496.6 380.6 L496.6 379.6 L496.7 378.6 L496.8 377.7 L496.9 376.8 L496.9 376.0 L497.0 375.1 L497.1 374.3 L497.1 373.6 L497.2 372.8 L497.3 372.1 L497.3 371.4 L497.4 370.8 L497.5 370.1 L497.5 369.5 L497.7 368.3 L497.8 367.3 L498.0 366.2 L498.1 365.3 L498.2 364.4 L498.4 363.6 L498.5 362.8 L498.7 362.1 L498.8 361.4 L498.9 360.8 L499.1 360.0 L499.3 359.3 L499.6 358.7 L499.8 358.0 L500.2 357.4 L500.6 356.9 L500.9 356.8 L501.4 357.0 L501.8 357.6 L502.1 358.3 L502.4 359.0 L502.6 359.7 L502.8 360.5 L503.0 361.4 L503.2 362.1 L503.3 362.8 L503.4 363.6 L503.6 364.5 L503.7 365.4 L503.8 366.4 L504.0 367.4 L504.1 368.5 L504.3 369.8 L504.3 370.4 L504.4 371.1 L504.5 371.8 L504.5 372.5 L504.6 373.2 L504.7 374.0 L504.7 374.8 L504.8 375.6 L504.9 376.5 L505.0 377.4 L505.0 378.4 L505.1 379.4 L505.2 380.4 L505.2 381.5 L505.3 382.6 L505.4 383.8 L505.4 385.0 L505.5 386.3 L505.6 387.7 L505.6 389.1 L505.7 390.7 L505.8 392.3 L505.9 394.0 L505.9 395.8 L506.0 397.8 L506.1 399.9 L506.1 402.2 L506.2 404.7 L506.3 407.4 L506.3 410.4 L506.4 413.7 L506.5 417.5 L506.5 421.8 L506.6 426.8 L506.7 432.9 L506.8 440.5 L506.8 450.7 L506.9 466.3 L507.0 500.5 L507.0 622.1 L507.0 496.9 L507.1 465.1 L507.2 450.0 L507.2 440.1 L507.3 432.6 L507.4 426.7 L507.4 421.7 L507.5 417.5 L507.6 413.8 L507.7 410.5 L507.7 407.6 L507.8 404.9 L507.9 402.5 L507.9 400.2 L508.0 398.1 L508.1 396.2 L508.1 394.4 L508.2 392.7 L508.3 391.2 L508.4 389.7 L508.4 388.3 L508.5 386.9 L508.6 385.7 L508.6 384.5 L508.7 383.3 L508.8 382.3 L508.8 381.2 L508.9 380.2 L509.0 379.3 L509.0 378.4 L509.1 377.5 L509.2 376.7 L509.3 375.9 L509.3 375.1 L509.4 374.4 L509.5 373.7 L509.5 373.0 L509.6 372.4 L509.7 371.8 L509.8 370.6 L509.9 369.6 L510.1 368.6 L510.2 367.7 L510.4 366.9 L510.5 366.1 L510.6 365.4 L510.8 364.8 L511.0 364.0 L511.2 363.3 L511.5 362.6 L511.9 362.0 L512.2 361.9 L512.6 362.1 L513.1 362.8 L513.3 363.6 L513.5 364.3 L513.8 365.2 L513.9 365.9 L514.0 366.6 L514.2 367.5 L514.3 368.3 L514.4 369.3 L514.6 370.4 L514.7 371.5 L514.8 372.2 L514.9 372.8 L514.9 373.5 L515.0 374.2 L515.1 374.9 L515.1 375.7 L515.2 376.5 L515.3 377.3 L515.3 378.2 L515.4 379.1 L515.5 380.1 L515.6 381.1 L515.6 382.1 L515.7 383.2 L515.8 384.4 L515.8 385.6 L515.9 386.9 L516.0 388.3 L516.0 389.7 L516.1 391.2 L516.2 392.8 L516.2 394.6 L516.3 396.4 L516.4 398.4 L516.5 400.5 L516.5 402.8 L516.6 405.3 L516.7 408.1 L516.7 411.1 L516.8 414.5 L516.9 418.4 L516.9 422.8 L517.0 428.0 L517.1 434.4 L517.1 442.4 L517.2 453.4 L517.3 471.0 L517.4 518.7 L517.4 622.1 L517.4 486.8 L517.5 461.2 L517.6 447.6 L517.6 438.3 L517.7 431.3 L517.8 425.6 L517.8 420.8 L517.9 416.7 L518.0 413.1 L518.0 409.9 L518.1 407.0 L518.2 404.4 L518.3 402.1 L518.3 399.9 L518.4 397.9 L518.5 396.0 L518.5 394.2 L518.6 392.6 L518.7 391.1 L518.7 389.6 L518.8 388.3 L518.9 387.0 L518.9 385.8 L519.0 384.6 L519.1 383.5 L519.2 382.5 L519.2 381.5 L519.3 380.6 L519.4 379.7 L519.4 378.8 L519.5 378.0 L519.6 377.3 L519.6 376.5 L519.7 375.8 L519.8 375.1 L519.8 374.5 L519.9 373.9 L520.1 372.8 L520.2 371.8 L520.3 370.8 L520.5 370.0 L520.6 369.3 L520.7 368.6 L521.0 367.8 L521.2 367.1 L521.4 366.5 L521.9 366.2 L521.9 366.2 L522.3 366.5 L522.6 367.1 L522.8 367.8 L523.0 368.6 L523.2 369.3 L523.3 370.0 L523.4 370.9 L523.6 371.8 L523.7 372.9 L523.9 374.0 L523.9 374.6 L524.0 375.3 L524.1 376.0 L524.1 376.7 L524.2 377.5 L524.3 378.3 L524.4 379.1 L524.4 380.0 L524.5 380.9 L524.6 381.9 L524.6 382.9 L524.7 384.0 L524.8 385.1 L524.8 386.3 L524.9 387.6 L525.0 388.9 L525.0 390.3 L525.1 391.9 L525.2 393.5 L525.3 395.2 L525.3 397.1 L525.4 399.0 L525.5 401.2 L525.5 403.5 L525.6 406.1 L525.7 408.9 L525.7 412.0 L525.8 415.5 L525.9 419.5 L525.9 424.1 L526.0 429.5 L526.1 436.2 L526.2 444.8 L526.2 456.9 L526.3 477.6 L526.4 622.1 L526.4 478.1 L526.5 457.2 L526.6 445.0 L526.6 436.4 L526.7 429.7 L526.8 424.3 L526.8 419.7 L526.9 415.8 L527.0 412.3 L527.1 409.2 L527.1 406.5 L527.2 403.9 L527.3 401.6 L527.3 399.5 L527.4 397.6 L527.5 395.8 L527.5 394.1 L527.6 392.5 L527.7 391.0 L527.7 389.6 L527.8 388.3 L527.9 387.1 L528.0 385.9 L528.0 384.8 L528.1 383.8 L528.2 382.8 L528.2 381.9 L528.3 381.0 L528.4 380.2 L528.4 379.4 L528.5 378.6 L528.6 377.9 L528.6 377.3 L528.7 376.6 L528.9 375.5 L529.0 374.4 L529.1 373.5 L529.3 372.7 L529.4 372.0 L529.6 371.2 L529.8 370.6 L530.2 370.0 L530.4 369.9 L530.8 370.4 L531.1 371.2 L531.3 372.0 L531.4 372.7 L531.6 373.5 L531.7 374.5 L531.8 375.5 L532.0 376.7 L532.0 377.3 L532.1 378.0 L532.2 378.7 L532.2 379.5 L532.3 380.3 L532.4 381.2 L532.5 382.1 L532.5 383.0 L532.6 384.0 L532.7 385.1 L532.7 386.2 L532.8 387.4 L532.9 388.7 L532.9 390.0 L533.0 391.5 L533.1 393.0 L533.1 394.7 L533.2 396.4 L533.3 398.3 L533.4 400.4 L533.4 402.6 L533.5 405.0 L533.6 407.7 L533.6 410.6 L533.7 413.9 L533.8 417.7 L533.8 421.9 L533.9 427.0 L534.0 433.0 L534.0 440.6 L534.1 450.9 L534.2 466.6 L534.3 501.4 L534.3 622.1 L534.3 496.1 L534.4 464.9 L534.5 449.9 L534.5 440.0 L534.6 432.6 L534.7 426.7 L534.7 421.7 L534.8 417.6 L534.9 413.9 L534.9 410.7 L535.0 407.8 L535.1 405.2 L535.2 402.8 L535.2 400.6 L535.3 398.6 L535.4 396.8 L535.4 395.1 L535.5 393.5 L535.6 392.0 L535.6 390.6 L535.7 389.3 L535.8 388.1 L535.8 386.9 L535.9 385.8 L536.0 384.8 L536.1 383.9 L536.1 383.0 L536.2 382.1 L536.3 381.3 L536.3 380.6 L536.4 379.9 L536.5 379.2 L536.5 378.6 L536.7 377.5 L536.8 376.5 L537.0 375.7 L537.1 375.0 L537.3 374.2 L537.6 373.5 L537.9 373.3 L538.3 373.8 L538.5 374.5 L538.7 375.4 L538.8 376.2 L539.0 377.1 L539.1 378.2 L539.2 379.4 L539.3 380.1 L539.4 380.8 L539.4 381.6 L539.5 382.4 L539.6 383.3 L539.7 384.2 L539.7 385.2 L539.8 386.3 L539.9 387.4 L539.9 388.6 L540.0 389.9 L540.1 391.3 L540.1 392.7 L540.2 394.3 L540.3 396.0 L540.4 397.8 L540.4 399.8 L540.5 401.9 L540.6 404.2 L540.6 406.8 L540.7 409.6 L540.8 412.7 L540.8 416.3 L540.9 420.3 L541.0 425.0 L541.0 430.6 L541.1 437.5 L541.2 446.6 L541.3 459.7 L541.3 483.3 L541.4 622.1 L541.4 531.7 L541.5 473.3 L541.5 454.7 L541.6 443.4 L541.7 435.2 L541.7 428.8 L541.8 423.5 L541.9 419.1 L541.9 415.3 L542.0 411.9 L542.1 408.9 L542.2 406.3 L542.2 403.8 L542.3 401.6 L542.4 399.6 L542.4 397.7 L542.5 396.0 L542.6 394.4 L542.6 392.9 L542.7 391.5 L542.8 390.2 L542.8 389.0 L542.9 387.8 L543.0 386.8 L543.1 385.8 L543.1 384.9 L543.2 384.0 L543.3 383.2 L543.3 382.5 L543.4 381.8 L543.5 381.1 L543.5 380.5 L543.7 379.5 L543.8 378.6 L544.0 377.8 L544.2 377.0 L544.4 376.4 L544.6 376.3 L545.0 376.8 L545.2 377.6 L545.3 378.3 L545.5 379.1 L545.6 380.2 L545.8 381.4 L545.8 382.1 L545.9 382.8 L546.0 383.6 L546.0 384.4 L546.1 385.3 L546.2 386.3 L546.2 387.3 L546.3 388.4 L546.4 389.6 L546.4 390.8 L546.5 392.2 L546.6 393.7 L546.7 395.2 L546.7 396.9 L546.8 398.8 L546.9 400.8 L546.9 402.9 L547.0 405.3 L547.1 407.9 L547.1 410.9 L547.2 414.1 L547.3 417.8 L547.3 422.1 L547.4 427.1 L547.5 433.1 L547.6 440.7 L547.6 451.0 L547.7 466.8 L547.8 502.1 L547.8 622.1 L547.8 495.6 L547.9 464.7 L548.0 449.8 L548.0 439.9 L548.1 432.5 L548.2 426.7 L548.2 421.8 L548.3 417.6 L548.4 414.0 L548.5 410.8 L548.5 408.0 L548.6 405.4 L548.7 403.1 L548.7 401.0 L548.8 399.1 L548.9 397.3 L548.9 395.6 L549.0 394.1 L549.1 392.7 L549.1 391.4 L549.2 390.2 L549.3 389.1 L549.4 388.0 L549.4 387.1 L549.5 386.2 L549.6 385.3 L549.6 384.6" stroke="#000000"/>
<path d="M134.1 438.7 L134.5 438.7 L135.0 438.7 L135.4 438.7 L135.8 438.7 L136.2 438.7 L136.6 438.7 L137.0 438.7 L137.4 438.7 L137.9 438.7 L138.3 438.7 L138.7 438.7 L139.1 438.7 L139.5 438.7 L139.9 438.7 L140.4 438.7 L140.8 438.7 L141.2 438.7 L141.6 438.7 L142.0 438.7 L142.4 438.7 L142.8 438.7 L143.3 438.7 L143.7 438.7 L144.1 438.7 L144.5 438.7 L144.9 438.7 L145.3 438.7 L145.8 438.7 L146.2 438.7 L146.6 438.7 L147.0 438.7 L147.4 438.7 L147.8 438.7 L148.2 438.7 L148.7 438.7 L149.1 438.7 L149.5 438.7 L149.9 438.7 L150.3 438.7 L150.7 438.7 L151.2 438.7 L151.6 438.7 L152.0 438.7 L152.4 438.7 L152.8 438.7 L153.2 438.7 L153.7 438.7 L154.1 438.7 L154.5 438.7 L154.9 438.7 L155.3 438.8 L155.7 438.8 L156.1 438.8 L156.6 438.8 L157.0 438.8 L157.4 438.8 L157.8 438.8 L158.2 438.8 L158.6 438.8 L159.1 438.8 L159.5 438.8 L159.9 438.8 L160.3 438.8 L160.7 438.8 L161.1 438.8 L161.5 438.8 L162.0 438.8 L162.4 438.8 L162.8 438.8 L163.2 438.8 L163.6 438.8 L164.0 438.8 L164.5 438.8 L164.9 438.8 L165.3 438.8 L165.7 438.8 L166.1 438.8 L166.5 438.8 L167.0 438.8 L167.4 438.8 L167.8 438.8 L168.2 438.8 L168.6 438.8 L169.0 438.8 L169.4 438.8 L169.9 438.8 L170.3 438.8 L170.7 438.8 L171.1 438.8 L171.5 438.8 L171.9 438.8 L172.4 438.8 L172.8 438.8 L173.2 438.8 L173.6 438.8 L174.0 438.8 L174.4 438.8 L174.8 438.8 L175.3 438.8 L175.7 438.8 L176.1 438.8 L176.5 438.8 L176.9 438.8 L177.3 438.8 L177.8 438.8 L178.2 438.8 L178.6 438.8 L179.0 438.8 L179.4 438.8 L179.8 438.8 L180.2 438.8 L180.7 438.8 L181.1 438.8 L181.5 438.9 L181.9 438.9 L182.3 438.9 L182.7 438.9 L183.2 438.9 L183.6 438.9 L184.0 438.9 L184.4 438.9 L184.8 438.9 L185.2 438.9 L185.7 438.9 L186.1 438.9 L186.5 438.9 L186.9 438.9 L187.3 438.9 L187.7 438.9 L188.1 438.9 L188.6 438.9 L189.0 438.9 L189.4 438.9 L189.8 438.9 L190.2 438.9 L190.6 438.9 L191.1 438.9 L191.5 438.9 L191.9 438.9 L192.3 438.9 L192.7 438.9 L193.1 438.9 L193.5 438.9 L194.0 438.9 L194.4 438.9 L194.8 438.9 L195.2 438.9 L195.6 438.9 L196.0 439.0 L196.5 439.0 L196.9 439.0 L197.3 439.0 L197.7 439.0 L198.1 439.0 L198.5 439.0 L199.0 439.0 L199.4 439.0 L199.8 439.0 L200.2 439.0 L200.6 439.0 L201.0 439.0 L201.4 439.0 L201.9 439.0 L202.3 439.0 L202.7 439.0 L203.1 439.0 L203.5 439.0 L203.9 439.0 L204.4 439.0 L204.8 439.0 L205.2 439.0 L205.6 439.0 L206.0 439.1 L206.4 439.1 L206.8 439.1 L207.3 439.1 L207.7 439.1 L208.1 439.1 L208.5 439.1 L208.9 439.1 L209.3 439.1 L209.8 439.1 L210.2 439.1 L210.6 439.1 L211.0 439.1 L211.4 439.1 L211.8 439.1 L212.2 439.1 L212.7 439.1 L213.1 439.1 L213.5 439.1 L213.9 439.2 L214.3 439.2 L214.7 439.2 L215.2 439.2 L215.6 439.2 L216.0 439.2 L216.4 439.2 L216.8 439.2 L217.2 439.2 L217.7 439.2 L218.1 439.2 L218.5 439.2 L218.9 439.2 L219.3 439.2 L219.7 439.2 L220.1 439.3 L220.6 439.3 L221.0 439.3 L221.4 439.3 L221.8 439.3 L222.2 439.3 L222.6 439.3 L223.1 439.3 L223.5 439.3 L223.9 439.3 L224.3 439.3 L224.7 439.3 L225.1 439.4 L225.5 439.4 L226.0 439.4 L226.4 439.4 L226.8 439.4 L227.2 439.4 L227.6 439.4 L228.0 439.4 L228.5 439.4 L228.9 439.4 L229.3 439.4 L229.7 439.5 L230.1 439.5 L230.5 439.5 L230.9 439.5 L231.4 439.5 L231.8 439.5 L232.2 439.5 L232.6 439.5 L233.0 439.5 L233.4 439.5 L233.9 439.6 L234.3 439.6 L234.7 439.6 L235.1 439.6 L235.5 439.6 L235.9 439.6 L236.4 439.6 L236.8 439.6 L237.2 439.6 L237.6 439.7 L238.0 439.7 L238.4 439.7 L238.8 439.7 L239.3 439.7 L239.7 439.7 L240.1 439.7 L240.5 439.8 L240.9 439.8 L241.3 439.8 L241.8 439.8 L242.2 439.8 L242.6 439.8 L243.0 439.8 L243.4 439.9 L243.8 439.9 L244.2 439.9 L244.7 439.9 L245.1 439.9 L245.5 439.9 L245.9 439.9 L246.3 440.0 L246.7 440.0 L247.2 440.0 L247.6 440.0 L248.0 440.0 L248.4 440.0 L248.8 440.1 L249.2 440.1 L249.7 440.1 L250.1 440.1 L250.5 440.1 L250.9 440.2 L251.3 440.2 L251.7 440.2 L252.1 440.2 L252.6 440.2 L253.0 440.2 L253.4 440.3 L253.8 440.3 L254.2 440.3 L254.6 440.3 L255.1 440.4 L255.5 440.4 L255.9 440.4 L256.3 440.4 L256.7 440.4 L257.1 440.5 L257.5 440.5 L258.0 440.5 L258.4 440.5 L258.8 440.6 L259.2 440.6 L259.6 440.6 L260.0 440.6 L260.5 440.7 L260.9 440.7 L261.3 440.7 L261.7 440.7 L262.1 440.8 L262.5 440.8 L262.9 440.8 L263.4 440.8 L263.8 440.9 L264.2 440.9 L264.6 440.9 L265.0 440.9 L265.4 441.0 L265.9 441.0 L266.3 441.0 L266.7 441.1 L267.1 441.1 L267.5 441.1 L267.9 441.2 L268.4 441.2 L268.8 441.2 L269.2 441.3 L269.6 441.3 L270.0 441.3 L270.4 441.4 L270.8 441.4 L271.3 441.4 L271.7 441.5 L272.1 441.5 L272.5 441.5 L272.9 441.6 L273.3 441.6 L273.8 441.6 L274.2 441.7 L274.6 441.7 L275.0 441.8 L275.4 441.8 L275.8 441.8 L276.2 441.9 L276.7 441.9 L277.1 442.0 L277.5 442.0 L277.9 442.1 L278.3 442.1 L278.7 442.1 L279.2 442.2 L279.6 442.2 L280.0 442.3 L280.4 442.3 L280.8 442.4 L281.2 442.4 L281.7 442.5 L282.1 442.5 L282.5 442.6 L282.9 442.6 L283.3 442.7 L283.7 442.7 L284.1 442.8 L284.6 442.8 L285.0 442.9 L285.4 442.9 L285.8 443.0 L286.2 443.1 L286.6 443.1 L287.1 443.2 L287.5 443.2 L287.9 443.3 L288.3 443.4 L288.7 443.4 L289.1 443.5 L289.5 443.5 L290.0 443.6 L290.4 443.7 L290.8 443.7 L291.2 443.8 L291.6 443.9 L292.0 443.9 L292.5 444.0 L292.9 444.1 L293.3 444.2 L293.7 444.2 L294.1 444.3 L294.5 444.4 L294.9 444.4 L295.4 444.5 L295.8 444.6 L296.2 444.7 L296.6 444.8 L297.0 444.8 L297.4 444.9 L297.9 445.0 L298.3 445.1 L298.7 445.2 L299.1 445.3 L299.5 445.4 L299.9 445.5 L300.4 445.5 L300.8 445.6 L301.2 445.7 L301.6 445.8 L302.0 445.9 L302.4 446.0 L302.8 446.1 L303.3 446.2 L303.7 446.3 L304.1 446.4 L304.5 446.5 L304.9 446.6 L305.3 446.8 L305.8 446.9 L306.2 447.0 L306.6 447.1 L307.0 447.2 L307.4 447.3 L307.8 447.4 L308.2 447.6 L308.7 447.7 L309.1 447.8 L309.5 447.9 L309.9 448.1 L310.3 448.2 L310.7 448.3 L311.2 448.5 L311.6 448.6 L312.0 448.8 L312.4 448.9 L312.8 449.0 L313.2 449.2 L313.7 449.3 L314.1 449.5 L314.5 449.7 L314.9 449.8 L315.3 450.0 L315.7 450.1 L316.1 450.3 L316.6 450.5 L317.0 450.6 L317.4 450.8 L317.8 451.0 L318.2 451.2 L318.6 451.4 L319.1 451.6 L319.5 451.7 L319.9 451.9 L320.3 452.1 L320.7 452.3 L321.1 452.5 L321.5 452.8 L322.0 453.0 L322.4 453.2 L322.8 453.4 L323.2 453.6 L323.6 453.9 L324.0 454.1 L324.5 454.3 L324.9 454.6 L325.3 454.8 L325.7 455.1 L326.1 455.3 L326.5 455.6 L326.9 455.9 L327.4 456.1 L327.8 456.4 L328.2 456.7 L328.6 457.0 L329.0 457.3 L329.4 457.6 L329.9 457.9 L330.3 458.3 L330.7 458.6 L331.1 458.9 L331.5 459.3 L331.9 459.6 L332.4 460.0 L332.8 460.4 L333.2 460.7 L333.6 461.1 L334.0 461.5 L334.4 461.9 L334.8 462.4 L335.3 462.8 L335.7 463.3 L336.1 463.7 L336.5 464.2 L336.9 464.7 L337.3 465.2 L337.8 465.7 L338.2 466.3 L338.6 466.8 L339.0 467.4 L339.4 468.0 L339.8 468.6 L340.2 469.3 L340.7 470.0 L341.1 470.7 L341.4 471.3 L341.8 471.9 L342.1 472.6 L342.5 473.3 L342.8 474.0 L343.2 474.7 L343.4 475.4 L343.7 476.0 L344.0 476.7 L344.3 477.4 L344.5 478.1 L344.8 478.9 L345.0 479.5 L345.2 480.1 L345.4 480.8 L345.7 481.5 L345.9 482.2 L346.1 482.9 L346.3 483.7 L346.5 484.5 L346.7 485.3 L346.9 486.2 L347.0 486.9 L347.2 487.5 L347.3 488.2 L347.5 488.9 L347.6 489.7 L347.7 490.4 L347.9 491.3 L348.0 492.1 L348.1 493.0 L348.3 494.0 L348.4 495.0 L348.6 496.1 L348.7 497.3 L348.8 497.9 L348.8 498.6 L348.9 499.3 L349.0 500.0 L349.0 500.7 L349.1 501.5 L349.2 502.3 L349.3 503.2 L349.3 504.1 L349.4 505.1 L349.5 506.1 L349.5 507.2 L349.6 508.4 L349.7 509.8 L349.7 511.2 L349.8 512.8 L349.9 514.5 L349.9 516.5 L350.0 518.8 L350.1 521.5 L350.2 524.7 L350.2 528.9 L350.3 534.6 L350.4 544.0 L350.4 561.5 L350.5 548.7 L350.6 537.0 L350.6 530.5 L350.7 526.0 L350.8 522.6 L350.8 519.8 L350.9 517.4 L351.0 515.4 L351.1 513.6 L351.1 512.0 L351.2 510.6 L351.3 509.3 L351.3 508.1 L351.4 507.0 L351.5 505.9 L351.5 505.0 L351.6 504.1 L351.7 503.2 L351.7 502.4 L351.8 501.7 L351.9 501.0 L352.0 500.3 L352.0 499.6 L352.1 499.0 L352.2 497.8 L352.4 496.8 L352.5 495.8 L352.6 494.8 L352.8 494.0 L352.9 493.1 L353.1 492.4 L353.2 491.6 L353.3 491.0 L353.5 490.3 L353.6 489.7 L353.8 488.8 L354.0 488.0 L354.2 487.2 L354.4 486.5 L354.7 485.8 L354.9 485.1 L355.1 484.5 L355.3 483.7 L355.6 483.0 L355.9 482.3 L356.2 481.7 L356.5 481.1 L356.8 480.4 L357.1 479.7 L357.5 479.1 L357.9 478.4 L358.3 477.8 L358.7 477.2 L359.2 476.7 L359.6 476.2 L360.0 475.7 L360.4 475.3 L360.8 474.9 L361.2 474.5 L361.7 474.2 L362.1 473.9 L362.5 473.6 L362.9 473.3 L363.3 473.0 L363.7 472.8 L364.1 472.6 L364.6 472.4 L365.0 472.3 L365.4 472.1 L365.8 472.0 L366.2 471.9 L366.6 471.8 L367.1 471.8 L367.5 471.7 L367.9 471.7 L368.2 471.7 L368.6 471.7 L369.1 471.7 L369.5 471.8 L369.9 471.9 L370.3 471.9 L370.7 472.0 L371.1 472.2 L371.6 472.3 L372.0 472.5 L372.4 472.6 L372.8 472.8 L373.2 473.1 L373.6 473.3 L374.0 473.6 L374.5 473.9 L374.9 474.2 L375.3 474.6 L375.7 474.9 L376.1 475.4 L376.5 475.8 L377.0 476.3 L377.4 476.8 L377.8 477.3 L378.2 477.9 L378.6 478.6 L379.0 479.2 L379.4 479.9 L379.7 480.5 L380.1 481.2 L380.4 482.0 L380.7 482.6 L381.0 483.3 L381.3 484.0 L381.5 484.8 L381.7 485.4 L381.9 486.0 L382.2 486.7 L382.4 487.4 L382.6 488.2 L382.8 489.0 L383.0 489.8 L383.2 490.7 L383.3 491.4 L383.5 492.1 L383.6 492.8 L383.7 493.5 L383.9 494.3 L384.0 495.1 L384.2 496.0 L384.3 497.0 L384.4 498.0 L384.6 499.0 L384.7 500.2 L384.8 500.8 L384.9 501.5 L384.9 502.2 L385.0 502.9 L385.1 503.6 L385.1 504.4 L385.2 505.2 L385.3 506.1 L385.3 507.1 L385.4 508.1 L385.5 509.1 L385.5 510.3 L385.6 511.6 L385.7 512.9 L385.8 514.4 L385.8 516.1 L385.9 518.0 L386.0 520.2 L386.0 522.7 L386.1 525.8 L386.2 529.6 L386.2 534.8 L386.3 542.7 L386.4 560.6 L386.4 622.1 L386.4 556.7 L386.5 541.4 L386.6 534.0 L386.7 529.0 L386.7 525.3 L386.8 522.4 L386.9 519.9 L386.9 517.8 L387.0 515.9 L387.1 514.2 L387.1 512.7 L387.2 511.4 L387.3 510.1 L387.3 509.0 L387.4 507.9 L387.5 506.9 L387.6 506.0 L387.6 505.1 L387.7 504.3 L387.8 503.5 L387.8 502.8 L387.9 502.1 L388.0 501.4 L388.0 500.7 L388.1 500.1 L388.2 499.0 L388.4 497.9 L388.5 496.9 L388.7 495.9 L388.8 495.1 L388.9 494.2 L389.1 493.5 L389.2 492.7 L389.4 492.0 L389.5 491.3 L389.6 490.7 L389.8 490.1 L390.0 489.2 L390.2 488.4 L390.4 487.7 L390.6 486.9 L390.8 486.2 L391.0 485.6 L391.2 485.0 L391.5 484.2 L391.8 483.5 L392.1 482.8 L392.3 482.2 L392.7 481.4 L393.0 480.7 L393.4 480.1 L393.8 479.4 L394.2 478.7 L394.6 478.1 L395.0 477.6 L395.5 477.1 L395.9 476.6 L396.3 476.2 L396.7 475.8 L397.1 475.5 L397.5 475.2 L397.9 474.9 L398.4 474.7 L398.8 474.5 L399.2 474.3 L399.6 474.2 L400.0 474.1 L400.4 474.0 L400.9 474.0 L401.2 474.0 L401.6 474.0 L402.0 474.0 L402.4 474.1 L402.9 474.2 L403.3 474.4 L403.7 474.6 L404.1 474.8 L404.5 475.0 L404.9 475.3 L405.4 475.7 L405.8 476.1 L406.2 476.5 L406.6 476.9 L407.0 477.5 L407.4 478.0 L407.8 478.7 L408.3 479.4 L408.6 480.0 L409.0 480.7 L409.3 481.4 L409.6 482.1 L409.9 482.8 L410.1 483.5 L410.4 484.3 L410.6 484.9 L410.8 485.5 L411.0 486.2 L411.2 487.0 L411.5 487.8 L411.7 488.6 L411.9 489.5 L412.0 490.1 L412.1 490.8 L412.3 491.5 L412.4 492.2 L412.6 493.0 L412.7 493.8 L412.8 494.6 L413.0 495.5 L413.1 496.5 L413.3 497.6 L413.4 498.7 L413.5 499.9 L413.6 500.5 L413.7 501.2 L413.7 501.9 L413.8 502.7 L413.9 503.4 L413.9 504.3 L414.0 505.1 L414.1 506.1 L414.2 507.0 L414.2 508.1 L414.3 509.2 L414.4 510.4 L414.4 511.8 L414.5 513.2 L414.6 514.8 L414.6 516.6 L414.7 518.6 L414.8 521.0 L414.8 523.8 L414.9 527.2 L415.0 531.6 L415.1 537.9 L415.1 548.9 L415.2 567.0 L415.3 546.8 L415.3 536.9 L415.4 531.0 L415.5 526.8 L415.5 523.5 L415.6 520.8 L415.7 518.6 L415.7 516.6 L415.8 514.9 L415.9 513.3 L416.0 511.9 L416.0 510.6 L416.1 509.5 L416.2 508.4 L416.2 507.4 L416.3 506.4 L416.4 505.6 L416.4 504.7 L416.5 503.9 L416.6 503.2 L416.6 502.5 L416.7 501.8 L416.8 501.2 L416.9 500.6 L417.0 499.4 L417.1 498.4 L417.3 497.4 L417.4 496.5 L417.5 495.7 L417.7 494.9 L417.8 494.2 L418.0 493.5 L418.1 492.8 L418.2 492.2 L418.4 491.3 L418.7 490.5 L418.9 489.8 L419.1 489.1 L419.3 488.5 L419.6 487.7 L419.8 487.0 L420.1 486.4 L420.5 485.7 L420.8 485.0 L421.2 484.4 L421.6 483.8 L422.0 483.3 L422.5 483.0 L422.9 482.7 L423.3 482.5 L423.7 482.4 L424.1 482.3 L424.2 482.3 L424.6 482.3 L425.0 482.5 L425.4 482.7 L425.9 482.9 L426.3 483.3 L426.7 483.8 L427.1 484.3 L427.5 485.0 L427.9 485.7 L428.2 486.4 L428.5 487.0 L428.8 487.8 L429.0 488.6 L429.3 489.2 L429.5 489.9 L429.7 490.7 L429.9 491.5 L430.1 492.4 L430.2 493.1 L430.4 493.8 L430.5 494.5 L430.6 495.3 L430.8 496.1 L430.9 497.0 L431.1 497.9 L431.2 499.0 L431.3 500.1 L431.5 501.3 L431.5 502.0 L431.6 502.6 L431.7 503.3 L431.7 504.1 L431.8 504.9 L431.9 505.7 L432.0 506.6 L432.0 507.6 L432.1 508.6 L432.2 509.7 L432.2 510.9 L432.3 512.2 L432.4 513.7 L432.4 515.2 L432.5 517.0 L432.6 519.0 L432.6 521.3 L432.7 524.1 L432.8 527.5 L432.9 531.8 L432.9 538.0 L433.0 548.7 L433.1 622.1 L433.1 596.6 L433.1 547.5 L433.2 537.4 L433.3 531.4 L433.3 527.2 L433.4 523.9 L433.5 521.1 L433.5 518.8 L433.6 516.9 L433.7 515.1 L433.8 513.5 L433.8 512.1 L433.9 510.8 L434.0 509.6 L434.0 508.5 L434.1 507.5 L434.2 506.6 L434.2 505.7 L434.3 504.8 L434.4 504.0 L434.4 503.3 L434.5 502.6 L434.6 501.9 L434.7 501.3 L434.7 500.6 L434.9 499.5 L435.0 498.4 L435.1 497.4 L435.3 496.5 L435.4 495.7 L435.6 494.9 L435.7 494.1 L435.8 493.4 L436.0 492.8 L436.1 492.2 L436.3 491.3 L436.5 490.5 L436.7 489.8 L436.9 489.1 L437.1 488.5 L437.4 487.7 L437.7 487.0 L438.0 486.4 L438.3 485.8 L438.7 485.1 L439.2 484.6 L439.6 484.2 L440.0 483.9 L440.4 483.7 L440.8 483.6 L441.0 483.6 L441.4 483.6 L441.8 483.8 L442.2 484.1 L442.6 484.5 L443.0 485.0 L443.5 485.6 L443.8 486.3 L444.1 486.9 L444.4 487.6 L444.6 488.3 L444.8 489.0 L445.0 489.7 L445.3 490.4 L445.5 491.2 L445.7 492.1 L445.8 492.8 L445.9 493.5 L446.1 494.2 L446.2 495.0 L446.4 495.8 L446.5 496.7 L446.6 497.7 L446.8 498.7 L446.9 499.9 L447.0 500.5 L447.1 501.1 L447.1 501.8 L447.2 502.5 L447.3 503.2 L447.3 504.0 L447.4 504.8 L447.5 505.6 L447.5 506.6 L447.6 507.6 L447.7 508.6 L447.7 509.7 L447.8 511.0 L447.9 512.3 L448.0 513.8 L448.0 515.4 L448.1 517.3 L448.2 519.3 L448.2 521.8 L448.3 524.7 L448.4 528.3 L448.4 533.0 L448.5 539.9 L448.6 553.1 L448.6 589.0 L448.6 566.6 L448.7 544.2 L448.8 535.6 L448.9 530.2 L448.9 526.2 L449.0 523.1 L449.1 520.5 L449.1 518.3 L449.2 516.4 L449.3 514.7 L449.3 513.2 L449.4 511.9 L449.5 510.6 L449.5 509.5 L449.6 508.4 L449.7 507.5 L449.8 506.5 L449.8 505.7 L449.9 504.9 L450.0 504.1 L450.0 503.4 L450.1 502.7 L450.2 502.1 L450.2 501.5 L450.4 500.4 L450.5 499.3 L450.7 498.4 L450.8 497.5 L450.9 496.7 L451.1 495.9 L451.2 495.3 L451.3 494.6 L451.6 493.7 L451.8 493.0 L452.0 492.3 L452.2 491.6 L452.5 490.9 L452.7 490.3 L453.1 489.7 L453.5 489.1 L453.9 488.7 L454.3 488.6 L454.5 488.5 L454.9 488.6 L455.4 488.9 L455.8 489.4 L456.2 490.1 L456.5 490.8 L456.8 491.6 L457.0 492.2 L457.2 492.9 L457.4 493.7 L457.6 494.6 L457.8 495.2 L457.9 495.9 L458.1 496.7 L458.2 497.5 L458.3 498.4 L458.5 499.4 L458.6 500.4 L458.8 501.6 L458.8 502.2 L458.9 502.9 L459.0 503.6 L459.0 504.3 L459.1 505.1 L459.2 505.9 L459.2 506.8 L459.3 507.7 L459.4 508.7 L459.5 509.8 L459.5 511.0 L459.6 512.3 L459.7 513.7 L459.7 515.3 L459.8 517.1 L459.9 519.1 L459.9 521.4 L460.0 524.1 L460.1 527.5 L460.1 531.9 L460.2 538.1 L460.3 549.0 L460.3 622.1 L460.4 592.0 L460.4 547.3 L460.5 537.3 L460.6 531.4 L460.6 527.1 L460.7 523.8 L460.8 521.1 L460.8 518.8 L460.9 516.9 L461.0 515.1 L461.0 513.6 L461.1 512.2 L461.2 510.9 L461.3 509.7 L461.3 508.6 L461.4 507.6 L461.5 506.7 L461.5 505.8 L461.6 505.0 L461.7 504.2 L461.7 503.5 L461.8 502.8 L461.9 502.2 L461.9 501.5 L462.1 500.4 L462.2 499.3 L462.4 498.4 L462.5 497.5 L462.6 496.7 L462.8 495.9 L462.9 495.2 L463.1 494.6 L463.3 493.8 L463.5 493.0 L463.7 492.3 L464.0 491.6 L464.2 490.9 L464.6 490.3 L465.0 489.8 L465.4 489.5 L465.8 489.4 L466.2 489.5 L466.6 489.9 L467.0 490.5 L467.3 491.2 L467.6 492.0 L467.8 492.6 L468.0 493.3 L468.2 494.1 L468.4 494.8 L468.5 495.4 L468.7 496.1 L468.8 496.9 L468.9 497.8 L469.1 498.7 L469.2 499.7 L469.4 500.8 L469.4 501.4 L469.5 502.1 L469.6 502.7 L469.6 503.4 L469.7 504.2 L469.8 505.0 L469.8 505.8 L469.9 506.7 L470.0 507.7 L470.0 508.7 L470.1 509.8 L470.2 511.0 L470.3 512.3 L470.3 513.8 L470.4 515.4 L470.5 517.2 L470.5 519.2 L470.6 521.6 L470.7 524.5 L470.7 528.0 L470.8 532.6 L470.9 539.2 L470.9 551.3 L471.0 568.7 L471.1 545.4 L471.2 536.3 L471.2 530.7 L471.3 526.6 L471.4 523.4 L471.4 520.8 L471.5 518.6 L471.6 516.7 L471.6 515.0 L471.7 513.5 L471.8 512.1 L471.8 510.9 L471.9 509.8 L472.0 508.7 L472.1 507.8 L472.1 506.9 L472.2 506.0 L472.3 505.2 L472.3 504.5 L472.4 503.8 L472.5 503.2 L472.5 502.5 L472.7 501.4 L472.8 500.4 L473.0 499.5 L473.1 498.6 L473.2 497.9 L473.4 497.2 L473.5 496.6 L473.7 495.8 L473.9 495.1 L474.2 494.3 L474.5 493.6 L475.0 493.1 L475.4 493.0 L475.8 493.1 L476.2 493.6 L476.6 494.3 L476.8 495.1 L477.0 495.8 L477.3 496.7 L477.4 497.3 L477.5 498.0 L477.7 498.8 L477.8 499.6 L477.9 500.6 L478.1 501.7 L478.2 502.8 L478.3 503.5 L478.4 504.2 L478.4 504.9 L478.5 505.7 L478.6 506.5 L478.6 507.4 L478.7 508.3 L478.8 509.4 L478.8 510.5 L478.9 511.7 L479.0 513.0 L479.1 514.5 L479.1 516.1 L479.2 518.0 L479.3 520.1 L479.3 522.6 L479.4 525.6 L479.5 529.4 L479.5 534.5 L479.6 542.2 L479.7 559.0 L479.7 622.1 L479.7 558.1 L479.8 541.9 L479.9 534.3 L480.0 529.3 L480.0 525.5 L480.1 522.5 L480.2 520.1 L480.2 517.9 L480.3 516.1 L480.4 514.5 L480.4 513.0 L480.5 511.7 L480.6 510.5 L480.6 509.3 L480.7 508.3 L480.8 507.4 L480.9 506.5 L480.9 505.7 L481.0 504.9 L481.1 504.2 L481.1 503.5 L481.2 502.8 L481.3 502.2 L481.4 501.1 L481.5 500.1 L481.7 499.2 L481.8 498.4 L482.0 497.7 L482.1 497.1 L482.3 496.2 L482.5 495.5 L482.8 494.7 L483.1 494.1 L483.6 493.7 L483.8 493.6 L484.2 493.8 L484.6 494.4 L484.9 495.0 L485.1 495.6 L485.3 496.4 L485.5 497.2 L485.6 497.9 L485.8 498.7 L485.9 499.5 L486.0 500.5 L486.2 501.5 L486.3 502.7 L486.4 503.4 L486.5 504.1 L486.5 504.8 L486.6 505.6 L486.7 506.4 L486.7 507.3 L486.8 508.3 L486.9 509.3 L486.9 510.4 L487.0 511.6 L487.1 513.0 L487.2 514.5 L487.2 516.2 L487.3 518.0 L487.4 520.2 L487.4 522.7 L487.5 525.8 L487.6 529.7 L487.6 534.9 L487.7 543.0 L487.8 561.5 L487.8 555.8 L487.9 541.1 L488.0 533.8 L488.1 528.9 L488.1 525.3 L488.2 522.4 L488.3 520.0 L488.3 517.9 L488.4 516.1 L488.5 514.5 L488.5 513.1 L488.6 511.8 L488.7 510.6 L488.7 509.5 L488.8 508.5 L488.9 507.6 L489.0 506.8 L489.0 506.0 L489.1 505.3 L489.2 504.6 L489.2 503.9 L489.4 502.8 L489.5 501.8 L489.6 500.8 L489.8 500.1 L489.9 499.4 L490.1 498.7 L490.3 498.0 L490.5 497.4 L490.8 496.7 L491.2 496.4 L491.3 496.4 L491.7 496.7 L492.1 497.3 L492.3 498.0 L492.5 498.7 L492.6 499.3 L492.8 500.1 L492.9 500.9 L493.0 501.8 L493.2 502.8 L493.3 504.0 L493.4 504.7 L493.5 505.4 L493.5 506.1 L493.6 506.9 L493.7 507.8 L493.7 508.7 L493.8 509.7 L493.9 510.8 L493.9 512.0 L494.0 513.4 L494.1 514.9 L494.2 516.5 L494.2 518.4 L494.3 520.6 L494.4 523.1 L494.4 526.2 L494.5 530.2 L494.6 535.6 L494.6 544.1 L494.7 565.7 L494.7 622.1 L494.8 553.7 L494.8 540.3 L494.9 533.3 L495.0 528.6 L495.1 525.0 L495.1 522.1 L495.2 519.7 L495.3 517.7 L495.3 515.9 L495.4 514.3 L495.5 512.9 L495.5 511.6 L495.6 510.4 L495.7 509.3 L495.7 508.4 L495.8 507.5 L495.9 506.6 L496.0 505.8 L496.0 505.1 L496.1 504.4 L496.2 503.8 L496.3 502.7 L496.4 501.6 L496.6 500.8 L496.7 500.0 L496.9 499.3 L497.1 498.5 L497.3 497.9 L497.6 497.2 L498.0 496.9 L498.4 497.2 L498.8 498.0 L499.0 498.7 L499.2 499.6 L499.3 500.3 L499.5 501.1 L499.6 502.0 L499.8 503.1 L499.9 504.3 L500.0 505.0 L500.0 505.8 L500.1 506.5 L500.2 507.4 L500.2 508.3 L500.3 509.3 L500.4 510.4 L500.5 511.6 L500.5 512.9 L500.6 514.3 L500.7 515.9 L500.7 517.8 L500.8 519.9 L500.9 522.3 L500.9 525.3 L501.0 528.9 L501.1 533.9 L501.1 541.2 L501.2 556.4 L501.3 569.0 L501.3 561.0 L501.4 542.8 L501.4 534.9 L501.5 529.7 L501.6 525.9 L501.6 522.9 L501.7 520.4 L501.8 518.3 L501.8 516.5 L501.9 514.9 L502.0 513.4 L502.0 512.1 L502.1 511.0 L502.2 509.9 L502.3 508.9 L502.3 508.0 L502.4 507.2 L502.5 506.5 L502.5 505.8 L502.6 505.1 L502.7 504.5 L502.8 503.4 L502.9 502.5 L503.1 501.7 L503.2 501.1 L503.4 500.3 L503.7 499.5 L504.1 499.1 L504.5 499.5 L504.8 500.2 L505.0 501.0 L505.2 501.6 L505.3 502.4 L505.4 503.3 L505.6 504.4 L505.7 505.6 L505.8 506.3 L505.9 507.1 L505.9 507.9 L506.0 508.8 L506.1 509.8 L506.1 510.8 L506.2 512.0 L506.3 513.3 L506.3 514.7 L506.4 516.3 L506.5 518.1 L506.5 520.3 L506.6 522.7 L506.7 525.7 L506.8 529.5 L506.8 534.6 L506.9 542.4 L507.0 559.5 L507.0 622.1 L507.0 557.7 L507.1 541.7 L507.2 534.2 L507.2 529.2 L507.3 525.5 L507.4 522.6 L507.4 520.1 L507.5 518.0 L507.6 516.2 L507.7 514.6 L507.7 513.2 L507.8 511.9 L507.9 510.8 L507.9 509.7 L508.0 508.8 L508.1 507.9 L508.1 507.1 L508.2 506.3 L508.3 505.6 L508.4 505.0 L508.5 503.9 L508.6 502.9 L508.8 502.1 L508.9 501.4 L509.1 500.6 L509.4 499.9 L509.7 499.6 L510.2 500.0 L510.4 500.8 L510.6 501.7 L510.8 502.4 L510.9 503.3 L511.1 504.3 L511.2 505.6 L511.3 506.3 L511.3 507.0 L511.4 507.8 L511.5 508.7 L511.5 509.7 L511.6 510.8 L511.7 511.9 L511.7 513.2 L511.8 514.7 L511.9 516.3 L512.0 518.1 L512.0 520.2 L512.1 522.7 L512.2 525.8 L512.2 529.6 L512.3 534.7 L512.4 542.7 L512.4 560.7 L512.5 577.4 L512.5 556.6 L512.6 541.4 L512.6 534.0 L512.7 529.1 L512.8 525.5 L512.9 522.6 L512.9 520.1 L513.0 518.1 L513.1 516.3 L513.1 514.8 L513.2 513.4 L513.3 512.1 L513.3 511.0 L513.4 510.0 L513.5 509.1 L513.5 508.3 L513.6 507.5 L513.7 506.8 L513.8 506.1 L513.9 505.0 L514.0 504.1 L514.2 503.3 L514.3 502.7 L514.5 502.0 L514.9 501.5 L515.3 502.0 L515.6 502.7 L515.7 503.3 L515.8 504.1 L516.0 505.1 L516.1 506.2 L516.2 506.9 L516.2 507.6 L516.3 508.4 L516.4 509.3 L516.5 510.2 L516.5 511.3 L516.6 512.4 L516.7 513.7 L516.7 515.2 L516.8 516.8 L516.9 518.6 L516.9 520.8 L517.0 523.4 L517.1 526.5 L517.1 530.5 L517.2 535.9 L517.3 544.7 L517.4 568.6 L517.4 622.1 L517.4 552.6 L517.5 539.8 L517.6 533.0 L517.6 528.4 L517.7 524.9 L517.8 522.1 L517.8 519.7 L517.9 517.7 L518.0 516.0 L518.0 514.4 L518.1 513.1 L518.2 511.9 L518.3 510.8 L518.3 509.8 L518.4 508.9 L518.5 508.1 L518.5 507.3 L518.6 506.6 L518.7 506.0 L518.8 504.9 L518.9 504.0 L519.1 503.3 L519.3 502.5 L519.6 501.9 L519.7 501.9 L520.1 502.4 L520.3 503.1 L520.5 503.8 L520.6 504.6 L520.7 505.6 L520.9 506.9 L521.0 507.6 L521.0 508.4 L521.1 509.3 L521.2 510.2 L521.2 511.3 L521.3 512.4 L521.4 513.7 L521.4 515.2 L521.5 516.8 L521.6 518.7 L521.6 520.9 L521.7 523.5 L521.8 526.6 L521.9 530.7 L521.9 536.4 L522.0 545.5 L522.1 573.3 L522.1 581.7 L522.1 551.2 L522.2 539.2 L522.3 532.7 L522.3 528.2 L522.4 524.7 L522.5 522.0 L522.5 519.7 L522.6 517.7 L522.7 516.0 L522.8 514.6 L522.8 513.2 L522.9 512.1 L523.0 511.0 L523.0 510.1 L523.1 509.2 L523.2 508.4 L523.2 507.8 L523.3 507.1 L523.4 506.0 L523.6 505.2 L523.7 504.5 L523.9 503.8 L524.2 503.5 L524.6 504.2 L524.8 505.1 L525.0 505.9 L525.1 506.9 L525.2 507.6 L525.3 508.2 L525.3 509.0 L525.4 509.8 L525.5 510.8 L525.5 511.8 L525.6 512.9 L525.7 514.2 L525.7 515.7 L525.8 517.3 L525.9 519.2 L525.9 521.4 L526.0 524.1 L526.1 527.4 L526.2 531.7 L526.2 537.7 L526.3 548.0 L526.4 621.9 L526.4 622.1 L526.4 548.2 L526.5 537.8 L526.6 531.7 L526.6 527.4 L526.7 524.2 L526.8 521.5 L526.8 519.3 L526.9 517.4 L527.0 515.7 L527.1 514.2 L527.1 513.0 L527.2 511.8 L527.3 510.8 L527.3 509.9 L527.4 509.0 L527.5 508.3 L527.5 507.6 L527.6 507.0 L527.7 506.0 L527.9 505.2 L528.0 504.6 L528.3 503.9 L528.4 503.8 L528.9 504.6 L529.0 505.3 L529.1 506.1 L529.3 507.1 L529.3 507.8 L529.4 508.5 L529.5 509.2 L529.5 510.1 L529.6 511.1 L529.7 512.1 L529.8 513.3 L529.8 514.7 L529.9 516.2 L530.0 518.0 L530.0 520.0 L530.1 522.4 L530.2 525.3 L530.2 528.9 L530.3 533.7 L530.4 541.0 L530.4 555.5 L530.5 565.7 L530.5 562.2 L530.6 543.2 L530.7 535.1 L530.7 529.9 L530.8 526.1 L530.9 523.1 L530.9 520.7 L531.0 518.6 L531.1 516.9 L531.1 515.3 L531.2 514.0 L531.3 512.8 L531.3 511.7 L531.4 510.8 L531.5 509.9 L531.6 509.2 L531.6 508.5 L531.8 507.4 L531.9 506.6 L532.0 505.9 L532.3 505.3 L532.4 505.3 L532.8 506.2 L532.9 506.9 L533.1 507.8 L533.2 509.1 L533.3 509.8 L533.4 510.7 L533.4 511.6 L533.5 512.6 L533.6 513.8 L533.6 515.2 L533.7 516.7 L533.8 518.4 L533.8 520.5 L533.9 522.9 L534.0 525.9 L534.0 529.6 L534.1 534.7 L534.2 542.5 L534.3 559.9 L534.3 622.1 L534.3 557.3 L534.4 541.6 L534.5 534.2 L534.5 529.2 L534.6 525.6 L534.7 522.7 L534.7 520.3 L534.8 518.3 L534.9 516.5 L534.9 515.0 L535.0 513.7 L535.1 512.6 L535.2 511.5 L535.2 510.6 L535.3 509.8 L535.4 509.1 L535.4 508.4 L535.6 507.4 L535.7 506.6 L535.9 505.8 L536.1 505.6 L536.5 506.2 L536.6 506.9 L536.7 507.8 L536.9 509.0 L537.0 509.7 L537.0 510.5 L537.1 511.4 L537.2 512.5 L537.2 513.6 L537.3 515.0 L537.4 516.5 L537.4 518.2 L537.5 520.2 L537.6 522.6 L537.6 525.5 L537.7 529.2 L537.8 534.1 L537.9 541.6 L537.9 557.1 L538.0 582.0 L538.0 560.0 L538.1 542.6 L538.1 534.7 L538.2 529.7 L538.3 526.0 L538.3 523.0 L538.4 520.6 L538.5 518.6 L538.5 516.9 L538.6 515.4 L538.7 514.1 L538.8 513.0 L538.8 512.0 L538.9 511.1 L539.0 510.3 L539.0 509.6 L539.2 508.5 L539.3 507.7 L539.5 507.0 L539.7 506.9 L540.0 507.6 L540.1 508.3 L540.3 509.3 L540.4 510.0 L540.4 510.7 L540.5 511.6 L540.6 512.5 L540.6 513.6 L540.7 514.8 L540.8 516.2 L540.8 517.9 L540.9 519.8 L541.0 522.0 L541.0 524.7 L541.1 528.1 L541.2 532.6 L541.3 539.1 L541.3 550.9 L541.4 622.1 L541.4 575.0 L541.5 545.8 L541.5 536.6 L541.6 530.9 L541.7 526.9 L541.7 523.8 L541.8 521.2 L541.9 519.1 L541.9 517.3 L542.0 515.8 L542.1 514.4 L542.2 513.2 L542.2 512.2 L542.3 511.3 L542.4 510.5 L542.4 509.8 L542.6 508.7 L542.7 507.9 L542.9 507.3 L543.1 507.1 L543.4 508.0 L543.5 508.9 L543.7 510.1 L543.7 510.8 L543.8 511.6 L543.9 512.6 L544.0 513.7 L544.0 514.9 L544.1 516.4 L544.2 518.0 L544.2 520.0 L544.3 522.3 L544.4 525.1 L544.4 528.6 L544.5 533.3 L544.6 540.2 L544.6 553.5 L544.7 559.0 L544.8 544.2 L544.9 535.7 L544.9 530.4 L545.0 526.5 L545.1 523.5 L545.1 521.0 L545.2 519.0 L545.3 517.3 L545.3 515.8 L545.4 514.5 L545.5 513.4 L545.5 512.5 L545.6 511.6 L545.7 510.9 L545.8 510.3 L545.9 509.3 L546.0 508.7 L546.2 508.3 L546.6 509.2 L546.7 510.1 L546.8 510.7 L546.9 511.5 L546.9 512.3 L547.0 513.2 L547.1 514.3 L547.1 515.6 L547.2 517.0 L547.3 518.7 L547.3 520.7 L547.4 523.1 L547.5 526.0 L547.6 529.7 L547.6 534.8 L547.7 542.6 L547.8 560.3 L547.8 622.1 L547.8 557.0 L547.9 541.5 L548.0 534.1 L548.0 529.2 L548.1 525.6 L548.2 522.8 L548.2 520.4 L548.3 518.5 L548.4 516.8 L548.5 515.4 L548.5 514.2 L548.6 513.1 L548.7 512.2 L548.7 511.4 L548.8 510.7 L548.9 509.7 L549.1 509.0 L549.3 508.6 L549.6 509.5" stroke="#ff0000"/>
<path d="M134.1 455.0 L134.5 455.0 L135.0 455.0 L135.4 455.0 L135.8 455.0 L136.2 455.0 L136.6 455.0 L137.0 455.0 L137.4 455.0 L137.9 455.0 L138.3 455.0 L138.7 455.0 L139.1 455.0 L139.5 455.0 L139.9 455.0 L140.4 455.0 L140.8 455.0 L141.2 455.0 L141.6 455.0 L142.0 455.0 L142.4 455.0 L142.8 455.0 L143.3 455.0 L143.7 455.0 L144.1 455.0 L144.5 455.0 L144.9 455.0 L145.3 455.0 L145.8 455.0 L146.2 455.0 L146.6 455.0 L147.0 455.0 L147.4 455.0 L147.8 455.0 L148.2 455.0 L148.7 455.0 L149.1 455.0 L149.5 455.0 L149.9 455.0 L150.3 455.0 L150.7 455.0 L151.2 455.0 L151.6 455.0 L152.0 455.0 L152.4 455.0 L152.8 455.0 L153.2 455.0 L153.7 455.0 L154.1 455.0 L154.5 455.0 L154.9 455.0 L155.3 455.0 L155.7 455.0 L156.1 455.0 L156.6 455.0 L157.0 455.0 L157.4 455.0 L157.8 455.0 L158.2 455.0 L158.6 455.0 L159.1 455.0 L159.5 455.0 L159.9 455.0 L160.3 455.0 L160.7 455.0 L161.1 455.0 L161.5 455.0 L162.0 455.0 L162.4 455.0 L162.8 455.0 L163.2 455.0 L163.6 455.0 L164.0 455.0 L164.5 455.0 L164.9 455.0 L165.3 455.0 L165.7 455.0 L166.1 455.0 L166.5 455.0 L167.0 455.0 L167.4 455.0 L167.8 455.0 L168.2 455.0 L168.6 455.0 L169.0 455.0 L169.4 455.0 L169.9 455.0 L170.3 455.0 L170.7 455.0 L171.1 455.0 L171.5 455.0 L171.9 455.0 L172.4 455.0 L172.8 455.0 L173.2 455.0 L173.6 455.1 L174.0 455.1 L174.4 455.1 L174.8 455.1 L175.3 455.1 L175.7 455.1 L176.1 455.1 L176.5 455.1 L176.9 455.1 L177.3 455.1 L177.8 455.1 L178.2 455.1 L178.6 455.1 L179.0 455.1 L179.4 455.1 L179.8 455.1 L180.2 455.1 L180.7 455.1 L181.1 455.1 L181.5 455.1 L181.9 455.1 L182.3 455.1 L182.7 455.1 L183.2 455.1 L183.6 455.1 L184.0 455.1 L184.4 455.1 L184.8 455.1 L185.2 455.1 L185.7 455.1 L186.1 455.1 L186.5 455.1 L186.9 455.1 L187.3 455.1 L187.7 455.1 L188.1 455.1 L188.6 455.1 L189.0 455.1 L189.4 455.1 L189.8 455.1 L190.2 455.1 L190.6 455.1 L191.1 455.1 L191.5 455.1 L191.9 455.1 L192.3 455.1 L192.7 455.1 L193.1 455.1 L193.5 455.1 L194.0 455.1 L194.4 455.1 L194.8 455.1 L195.2 455.1 L195.6 455.1 L196.0 455.1 L196.5 455.1 L196.9 455.1 L197.3 455.1 L197.7 455.1 L198.1 455.1 L198.5 455.1 L199.0 455.1 L199.4 455.2 L199.8 455.2 L200.2 455.2 L200.6 455.2 L201.0 455.2 L201.4 455.2 L201.9 455.2 L202.3 455.2 L202.7 455.2 L203.1 455.2 L203.5 455.2 L203.9 455.2 L204.4 455.2 L204.8 455.2 L205.2 455.2 L205.6 455.2 L206.0 455.2 L206.4 455.2 L206.8 455.2 L207.3 455.2 L207.7 455.2 L208.1 455.2 L208.5 455.2 L208.9 455.2 L209.3 455.2 L209.8 455.2 L210.2 455.2 L210.6 455.2 L211.0 455.2 L211.4 455.2 L211.8 455.2 L212.2 455.2 L212.7 455.2 L213.1 455.2 L213.5 455.3 L213.9 455.3 L214.3 455.3 L214.7 455.3 L215.2 455.3 L215.6 455.3 L216.0 455.3 L216.4 455.3 L216.8 455.3 L217.2 455.3 L217.7 455.3 L218.1 455.3 L218.5 455.3 L218.9 455.3 L219.3 455.3 L219.7 455.3 L220.1 455.3 L220.6 455.3 L221.0 455.3 L221.4 455.3 L221.8 455.3 L222.2 455.3 L222.6 455.3 L223.1 455.3 L223.5 455.4 L223.9 455.4 L224.3 455.4 L224.7 455.4 L225.1 455.4 L225.5 455.4 L226.0 455.4 L226.4 455.4 L226.8 455.4 L227.2 455.4 L227.6 455.4 L228.0 455.4 L228.5 455.4 L228.9 455.4 L229.3 455.4 L229.7 455.4 L230.1 455.4 L230.5 455.4 L230.9 455.4 L231.4 455.5 L231.8 455.5 L232.2 455.5 L232.6 455.5 L233.0 455.5 L233.4 455.5 L233.9 455.5 L234.3 455.5 L234.7 455.5 L235.1 455.5 L235.5 455.5 L235.9 455.5 L236.4 455.5 L236.8 455.5 L237.2 455.5 L237.6 455.6 L238.0 455.6 L238.4 455.6 L238.8 455.6 L239.3 455.6 L239.7 455.6 L240.1 455.6 L240.5 455.6 L240.9 455.6 L241.3 455.6 L241.8 455.6 L242.2 455.6 L242.6 455.7 L243.0 455.7 L243.4 455.7 L243.8 455.7 L244.2 455.7 L244.7 455.7 L245.1 455.7 L245.5 455.7 L245.9 455.7 L246.3 455.7 L246.7 455.7 L247.2 455.8 L247.6 455.8 L248.0 455.8 L248.4 455.8 L248.8 455.8 L249.2 455.8 L249.7 455.8 L250.1 455.8 L250.5 455.8 L250.9 455.8 L251.3 455.9 L251.7 455.9 L252.1 455.9 L252.6 455.9 L253.0 455.9 L253.4 455.9 L253.8 455.9 L254.2 455.9 L254.6 456.0 L255.1 456.0 L255.5 456.0 L255.9 456.0 L256.3 456.0 L256.7 456.0 L257.1 456.0 L257.5 456.0 L258.0 456.1 L258.4 456.1 L258.8 456.1 L259.2 456.1 L259.6 456.1 L260.0 456.1 L260.5 456.1 L260.9 456.2 L261.3 456.2 L261.7 456.2 L262.1 456.2 L262.5 456.2 L262.9 456.2 L263.4 456.2 L263.8 456.3 L264.2 456.3 L264.6 456.3 L265.0 456.3 L265.4 456.3 L265.9 456.3 L266.3 456.4 L266.7 456.4 L267.1 456.4 L267.5 456.4 L267.9 456.4 L268.4 456.5 L268.8 456.5 L269.2 456.5 L269.6 456.5 L270.0 456.5 L270.4 456.6 L270.8 456.6 L271.3 456.6 L271.7 456.6 L272.1 456.6 L272.5 456.7 L272.9 456.7 L273.3 456.7 L273.8 456.7 L274.2 456.7 L274.6 456.8 L275.0 456.8 L275.4 456.8 L275.8 456.8 L276.2 456.9 L276.7 456.9 L277.1 456.9 L277.5 456.9 L277.9 457.0 L278.3 457.0 L278.7 457.0 L279.2 457.0 L279.6 457.1 L280.0 457.1 L280.4 457.1 L280.8 457.1 L281.2 457.2 L281.7 457.2 L282.1 457.2 L282.5 457.2 L282.9 457.3 L283.3 457.3 L283.7 457.3 L284.1 457.4 L284.6 457.4 L285.0 457.4 L285.4 457.5 L285.8 457.5 L286.2 457.5 L286.6 457.6 L287.1 457.6 L287.5 457.6 L287.9 457.7 L288.3 457.7 L288.7 457.7 L289.1 457.8 L289.5 457.8 L290.0 457.8 L290.4 457.9 L290.8 457.9 L291.2 457.9 L291.6 458.0 L292.0 458.0 L292.5 458.1 L292.9 458.1 L293.3 458.1 L293.7 458.2 L294.1 458.2 L294.5 458.3 L294.9 458.3 L295.4 458.3 L295.8 458.4 L296.2 458.4 L296.6 458.5 L297.0 458.5 L297.4 458.6 L297.9 458.6 L298.3 458.7 L298.7 458.7 L299.1 458.7 L299.5 458.8 L299.9 458.8 L300.4 458.9 L300.8 458.9 L301.2 459.0 L301.6 459.0 L302.0 459.1 L302.4 459.2 L302.8 459.2 L303.3 459.3 L303.7 459.3 L304.1 459.4 L304.5 459.4 L304.9 459.5 L305.3 459.5 L305.8 459.6 L306.2 459.7 L306.6 459.7 L307.0 459.8 L307.4 459.8 L307.8 459.9 L308.2 460.0 L308.7 460.0 L309.1 460.1 L309.5 460.2 L309.9 460.2 L310.3 460.3 L310.7 460.4 L311.2 460.4 L311.6 460.5 L312.0 460.6 L312.4 460.7 L312.8 460.7 L313.2 460.8 L313.7 460.9 L314.1 461.0 L314.5 461.0 L314.9 461.1 L315.3 461.2 L315.7 461.3 L316.1 461.4 L316.6 461.4 L317.0 461.5 L317.4 461.6 L317.8 461.7 L318.2 461.8 L318.6 461.9 L319.1 462.0 L319.5 462.1 L319.9 462.1 L320.3 462.2 L320.7 462.3 L321.1 462.4 L321.5 462.5 L322.0 462.6 L322.4 462.7 L322.8 462.8 L323.2 462.9 L323.6 463.0 L324.0 463.1 L324.5 463.3 L324.9 463.4 L325.3 463.5 L325.7 463.6 L326.1 463.7 L326.5 463.8 L326.9 463.9 L327.4 464.1 L327.8 464.2 L328.2 464.3 L328.6 464.4 L329.0 464.5 L329.4 464.7 L329.9 464.8 L330.3 464.9 L330.7 465.1 L331.1 465.2 L331.5 465.3 L331.9 465.5 L332.4 465.6 L332.8 465.8 L333.2 465.9 L333.6 466.1 L334.0 466.2 L334.4 466.4 L334.8 466.5 L335.3 466.7 L335.7 466.8 L336.1 467.0 L336.5 467.2 L336.9 467.3 L337.3 467.5 L337.8 467.7 L338.2 467.8 L338.6 468.0 L339.0 468.2 L339.4 468.4 L339.8 468.6 L340.2 468.7 L340.7 468.9 L341.1 469.1 L341.5 469.3 L341.9 469.5 L342.3 469.7 L342.7 469.9 L343.2 470.1 L343.6 470.3 L344.0 470.6 L344.4 470.8 L344.8 471.0 L345.2 471.2 L345.7 471.5 L346.1 471.7 L346.5 471.9 L346.9 472.2 L347.3 472.4 L347.7 472.7 L348.1 472.9 L348.6 473.2 L349.0 473.4 L349.4 473.7 L349.8 474.0 L350.2 474.2 L350.6 474.5 L351.1 474.8 L351.5 475.1 L351.9 475.4 L352.3 475.7 L352.7 476.0 L353.1 476.3 L353.5 476.6 L354.0 477.0 L354.4 477.3 L354.8 477.6 L355.2 478.0 L355.6 478.3 L356.0 478.6 L356.5 479.0 L356.9 479.4 L357.3 479.7 L357.7 480.1 L358.1 480.5 L358.5 480.9 L358.9 481.3 L359.4 481.7 L359.8 482.1 L360.2 482.6 L360.6 483.0 L361.0 483.4 L361.4 483.9 L361.9 484.4 L362.3 484.8 L362.7 485.3 L363.1 485.8 L363.5 486.3 L363.9 486.8 L364.4 487.4 L364.8 487.9 L365.2 488.5 L365.6 489.0 L366.0 489.6 L366.4 490.2 L366.8 490.8 L367.3 491.4 L367.7 492.1 L368.1 492.7 L368.5 493.4 L368.9 494.1 L369.3 494.8 L369.7 495.4 L370.0 496.0 L370.4 496.6 L370.7 497.3 L371.1 498.0 L371.4 498.6 L371.8 499.3 L372.1 500.1 L372.5 500.8 L372.7 501.4 L373.0 502.0 L373.3 502.6 L373.6 503.3 L373.8 503.9 L374.1 504.6 L374.4 505.3 L374.7 506.0 L374.9 506.7 L375.2 507.5 L375.5 508.3 L375.8 509.0 L376.0 509.6 L376.2 510.3 L376.4 510.9 L376.6 511.5 L376.8 512.2 L377.0 512.9 L377.2 513.5 L377.4 514.2 L377.6 515.0 L377.9 515.7 L378.1 516.4 L378.3 517.2 L378.5 518.0 L378.7 518.8 L378.9 519.7 L379.1 520.5 L379.3 521.4 L379.5 522.0 L379.6 522.6 L379.7 523.3 L379.9 523.9 L380.0 524.6 L380.1 525.2 L380.3 525.9 L380.4 526.6 L380.6 527.3 L380.7 528.1 L380.8 528.8 L381.0 529.6 L381.1 530.4 L381.3 531.2 L381.4 532.0 L381.5 532.9 L381.7 533.8 L381.8 534.7 L381.9 535.6 L382.1 536.6 L382.2 537.6 L382.4 538.6 L382.5 539.7 L382.6 540.8 L382.8 541.9 L382.9 543.1 L383.0 543.7 L383.1 544.4 L383.1 545.0 L383.2 545.7 L383.3 546.3 L383.3 547.0 L383.4 547.7 L383.5 548.4 L383.5 549.1 L383.6 549.9 L383.7 550.6 L383.7 551.4 L383.8 552.2 L383.9 553.1 L384.0 553.9 L384.0 554.8 L384.1 555.7 L384.2 556.6 L384.2 557.5 L384.3 558.5 L384.4 559.5 L384.4 560.6 L384.5 561.7 L384.6 562.8 L384.6 564.0 L384.7 565.2 L384.8 566.5 L384.9 567.8 L384.9 569.2 L385.0 570.6 L385.1 572.1 L385.1 573.7 L385.2 575.4 L385.3 577.2 L385.3 579.1 L385.4 581.1 L385.5 583.3 L385.5 585.6 L385.6 588.2 L385.7 590.9 L385.8 594.0 L385.8 597.3 L385.9 601.2 L386.0 605.5 L386.0 610.6 L386.1 616.7 L386.4 622.1 L386.7 616.0 L386.8 610.1 L386.9 605.1 L386.9 600.9 L387.0 597.2 L387.1 593.9 L387.1 590.9 L387.2 588.2 L387.3 585.7 L387.3 583.4 L387.4 581.3 L387.5 579.3 L387.6 577.5 L387.6 575.7 L387.7 574.1 L387.8 572.5 L387.8 571.1 L387.9 569.7 L388.0 568.3 L388.0 567.0 L388.1 565.8 L388.2 564.6 L388.2 563.5 L388.3 562.4 L388.4 561.3 L388.5 560.3 L388.5 559.3 L388.6 558.4 L388.7 557.5 L388.7 556.6 L388.8 555.7 L388.9 554.9 L388.9 554.1 L389.0 553.3 L389.1 552.5 L389.1 551.8 L389.2 551.0 L389.3 550.3 L389.4 549.6 L389.4 549.0 L389.5 548.3 L389.6 547.7 L389.6 547.0 L389.7 546.4 L389.8 545.8 L389.9 544.6 L390.0 543.5 L390.2 542.4 L390.3 541.4 L390.5 540.4 L390.6 539.4 L390.7 538.5 L390.9 537.6 L391.0 536.7 L391.2 535.9 L391.3 535.1 L391.4 534.3 L391.6 533.5 L391.7 532.8 L391.8 532.0 L392.0 531.3 L392.1 530.6 L392.3 530.0 L392.4 529.3 L392.5 528.7 L392.7 528.1 L392.8 527.5 L393.0 526.6 L393.2 525.7 L393.4 524.9 L393.6 524.1 L393.9 523.4 L394.1 522.6 L394.3 521.9 L394.5 521.2 L394.7 520.6 L394.9 519.9 L395.1 519.3 L395.3 518.7 L395.6 517.9 L395.9 517.1 L396.1 516.4 L396.4 515.7 L396.7 515.0 L397.0 514.3 L397.3 513.7 L397.5 513.1 L397.9 512.3 L398.2 511.6 L398.6 511.0 L398.9 510.3 L399.3 509.7 L399.7 509.0 L400.1 508.3 L400.5 507.7 L400.9 507.1 L401.3 506.6 L401.8 506.0 L402.2 505.5 L402.6 505.0 L403.0 504.6 L403.4 504.2 L403.8 503.8 L404.2 503.4 L404.7 503.1 L405.1 502.8 L405.5 502.5 L405.9 502.2 L406.3 502.0 L406.7 501.7 L407.2 501.5 L407.6 501.4 L408.0 501.2 L408.4 501.1 L408.8 501.0 L409.2 500.9 L409.6 500.9 L410.1 500.8 L410.5 500.8 L410.9 500.8 L411.3 500.8 L411.7 500.9 L412.1 501.0 L412.6 501.1 L413.0 501.2 L413.4 501.4 L413.8 501.6 L414.2 501.8 L414.6 502.0 L415.1 502.2 L415.5 502.5 L415.9 502.8 L416.3 503.2 L416.7 503.6 L417.1 504.0 L417.5 504.4 L418.0 504.9 L418.4 505.4 L418.8 505.9 L419.2 506.5 L419.6 507.1 L420.0 507.7 L420.5 508.4 L420.8 509.0 L421.1 509.7 L421.5 510.3 L421.8 511.0 L422.2 511.8 L422.5 512.4 L422.7 513.0 L423.0 513.7 L423.3 514.4 L423.6 515.1 L423.8 515.9 L424.1 516.7 L424.3 517.3 L424.5 518.0 L424.7 518.6 L425.0 519.3 L425.2 520.0 L425.4 520.7 L425.6 521.5 L425.8 522.2 L426.0 523.0 L426.2 523.9 L426.4 524.7 L426.6 525.6 L426.8 526.3 L426.9 526.9 L427.0 527.5 L427.2 528.2 L427.3 528.9 L427.5 529.6 L427.6 530.3 L427.7 531.1 L427.9 531.8 L428.0 532.6 L428.1 533.4 L428.3 534.3 L428.4 535.1 L428.6 536.0 L428.7 536.9 L428.8 537.9 L429.0 538.9 L429.1 539.9 L429.3 541.0 L429.4 542.1 L429.5 543.2 L429.7 544.4 L429.7 545.0 L429.8 545.6 L429.9 546.3 L429.9 546.9 L430.0 547.6 L430.1 548.3 L430.2 549.0 L430.2 549.7 L430.3 550.5 L430.4 551.2 L430.4 552.0 L430.5 552.8 L430.6 553.6 L430.6 554.5 L430.7 555.4 L430.8 556.3 L430.8 557.2 L430.9 558.2 L431.0 559.1 L431.1 560.2 L431.1 561.2 L431.2 562.3 L431.3 563.5 L431.3 564.6 L431.4 565.9 L431.5 567.2 L431.5 568.5 L431.6 569.9 L431.7 571.4 L431.7 572.9 L431.8 574.6 L431.9 576.3 L432.0 578.1 L432.0 580.1 L432.1 582.2 L432.2 584.4 L432.2 586.8 L432.3 589.5 L432.4 592.4 L432.4 595.5 L432.5 599.1 L432.6 603.2 L432.6 607.8 L432.7 613.4 L432.8 620.1 L433.1 622.1 L433.3 619.7 L433.4 613.0 L433.5 607.6 L433.5 603.0 L433.6 599.1 L433.7 595.6 L433.8 592.4 L433.8 589.6 L433.9 587.0 L434.0 584.6 L434.0 582.4 L434.1 580.4 L434.2 578.5 L434.2 576.7 L434.3 575.0 L434.4 573.4 L434.4 571.9 L434.5 570.5 L434.6 569.1 L434.7 567.8 L434.7 566.5 L434.8 565.3 L434.9 564.2 L434.9 563.1 L435.0 562.0 L435.1 561.0 L435.1 560.0 L435.2 559.0 L435.3 558.1 L435.3 557.2 L435.4 556.4 L435.5 555.5 L435.6 554.7 L435.6 553.9 L435.7 553.2 L435.8 552.4 L435.8 551.7 L435.9 551.0 L436.0 550.3 L436.0 549.6 L436.1 549.0 L436.2 548.3 L436.2 547.7 L436.3 547.1 L436.5 545.9 L436.6 544.8 L436.7 543.7 L436.9 542.7 L437.0 541.7 L437.1 540.7 L437.3 539.8 L437.4 539.0 L437.6 538.1 L437.7 537.3 L437.8 536.5 L438.0 535.7 L438.1 535.0 L438.3 534.3 L438.4 533.6 L438.5 532.9 L438.7 532.3 L438.8 531.7 L438.9 531.1 L439.2 530.2 L439.4 529.4 L439.6 528.6 L439.8 527.8 L440.0 527.1 L440.2 526.4 L440.4 525.8 L440.6 525.1 L440.9 524.4 L441.2 523.6 L441.4 522.9 L441.7 522.3 L442.0 521.6 L442.3 520.9 L442.7 520.3 L443.1 519.6 L443.5 519.0 L443.9 518.4 L444.4 518.0 L444.8 517.6 L445.2 517.2 L445.6 517.0 L446.0 516.8 L446.4 516.7 L446.8 516.6 L447.0 516.6 L447.4 516.6 L447.8 516.7 L448.2 516.9 L448.6 517.2 L449.1 517.5 L449.5 517.9 L449.9 518.4 L450.3 518.9 L450.7 519.5 L451.1 520.3 L451.5 520.9 L451.8 521.7 L452.1 522.3 L452.4 523.0 L452.7 523.8 L452.9 524.5 L453.1 525.2 L453.4 525.8 L453.6 526.5 L453.8 527.3 L454.0 528.0 L454.2 528.8 L454.4 529.7 L454.6 530.6 L454.7 531.2 L454.9 531.9 L455.0 532.5 L455.2 533.2 L455.3 533.9 L455.4 534.7 L455.6 535.4 L455.7 536.2 L455.8 537.1 L456.0 537.9 L456.1 538.8 L456.3 539.7 L456.4 540.7 L456.5 541.7 L456.7 542.8 L456.8 543.9 L457.0 545.0 L457.1 546.2 L457.2 546.8 L457.2 547.5 L457.3 548.1 L457.4 548.8 L457.4 549.5 L457.5 550.2 L457.6 550.9 L457.6 551.6 L457.7 552.4 L457.8 553.2 L457.9 554.0 L457.9 554.8 L458.0 555.7 L458.1 556.6 L458.1 557.5 L458.2 558.4 L458.3 559.4 L458.3 560.4 L458.4 561.4 L458.5 562.5 L458.5 563.7 L458.6 564.8 L458.7 566.0 L458.8 567.3 L458.8 568.7 L458.9 570.0 L459.0 571.5 L459.0 573.1 L459.1 574.7 L459.2 576.4 L459.2 578.2 L459.3 580.2 L459.4 582.3 L459.5 584.5 L459.5 586.9 L459.6 589.5 L459.7 592.4 L459.7 595.6 L459.8 599.2 L459.9 603.2 L459.9 607.9 L460.0 613.4 L460.1 620.2 L460.3 622.1 L460.6 619.6 L460.7 613.0 L460.8 607.6 L460.8 603.0 L460.9 599.0 L461.0 595.5 L461.0 592.4 L461.1 589.6 L461.2 587.0 L461.3 584.7 L461.3 582.5 L461.4 580.4 L461.5 578.5 L461.5 576.7 L461.6 575.1 L461.7 573.5 L461.7 572.0 L461.8 570.6 L461.9 569.2 L461.9 567.9 L462.0 566.7 L462.1 565.5 L462.2 564.4 L462.2 563.3 L462.3 562.2 L462.4 561.2 L462.4 560.2 L462.5 559.3 L462.6 558.4 L462.6 557.5 L462.7 556.7 L462.8 555.9 L462.8 555.1 L462.9 554.3 L463.0 553.5 L463.1 552.8 L463.1 552.1 L463.2 551.4 L463.3 550.8 L463.3 550.1 L463.4 549.5 L463.5 548.9 L463.6 547.7 L463.7 546.6 L463.9 545.5 L464.0 544.5 L464.2 543.5 L464.3 542.6 L464.4 541.7 L464.6 540.9 L464.7 540.1 L464.9 539.3 L465.0 538.6 L465.1 537.9 L465.3 537.2 L465.4 536.5 L465.5 535.9 L465.8 535.0 L466.0 534.2 L466.2 533.5 L466.4 532.7 L466.6 532.1 L466.8 531.5 L467.1 530.7 L467.3 530.0 L467.6 529.4 L468.0 528.7 L468.4 528.1 L468.8 527.6 L469.2 527.2 L469.6 526.9 L470.0 526.8 L470.2 526.8 L470.6 526.9 L471.0 527.1 L471.4 527.5 L471.8 528.0 L472.3 528.6 L472.6 529.3 L472.9 529.9 L473.2 530.6 L473.4 531.4 L473.6 532.0 L473.9 532.7 L474.1 533.4 L474.3 534.2 L474.5 535.1 L474.6 535.7 L474.8 536.3 L474.9 536.9 L475.0 537.6 L475.2 538.4 L475.3 539.1 L475.5 539.9 L475.6 540.7 L475.7 541.6 L475.9 542.5 L476.0 543.5 L476.1 544.5 L476.3 545.6 L476.4 546.7 L476.6 547.9 L476.6 548.5 L476.7 549.1 L476.8 549.7 L476.8 550.4 L476.9 551.1 L477.0 551.8 L477.0 552.5 L477.1 553.3 L477.2 554.0 L477.3 554.8 L477.3 555.6 L477.4 556.5 L477.5 557.4 L477.5 558.3 L477.6 559.2 L477.7 560.2 L477.7 561.2 L477.8 562.2 L477.9 563.3 L477.9 564.4 L478.0 565.6 L478.1 566.8 L478.2 568.1 L478.2 569.5 L478.3 570.9 L478.4 572.4 L478.4 573.9 L478.5 575.6 L478.6 577.3 L478.6 579.2 L478.7 581.2 L478.8 583.3 L478.8 585.6 L478.9 588.1 L479.0 590.9 L479.1 593.9 L479.1 597.2 L479.2 601.0 L479.3 605.3 L479.3 610.4 L479.4 616.4 L479.7 622.1 L480.0 616.3 L480.1 610.3 L480.2 605.4 L480.2 601.1 L480.3 597.4 L480.4 594.1 L480.4 591.1 L480.5 588.4 L480.6 586.0 L480.6 583.7 L480.7 581.6 L480.8 579.6 L480.9 577.8 L480.9 576.1 L481.0 574.5 L481.1 572.9 L481.1 571.5 L481.2 570.1 L481.3 568.8 L481.3 567.5 L481.4 566.3 L481.5 565.2 L481.5 564.1 L481.6 563.1 L481.7 562.1 L481.8 561.1 L481.8 560.2 L481.9 559.3 L482.0 558.4 L482.0 557.6 L482.1 556.7 L482.2 556.0 L482.2 555.2 L482.3 554.5 L482.4 553.8 L482.4 553.1 L482.5 552.4 L482.6 551.8 L482.7 551.2 L482.7 550.6 L482.9 549.4 L483.0 548.3 L483.1 547.3 L483.3 546.3 L483.4 545.4 L483.6 544.5 L483.7 543.7 L483.8 543.0 L484.0 542.2 L484.1 541.5 L484.2 540.9 L484.4 540.3 L484.6 539.4 L484.8 538.7 L485.0 538.0 L485.2 537.3 L485.5 536.6 L485.8 536.0 L486.1 535.3 L486.5 534.8 L486.9 534.5 L487.3 534.4 L487.7 534.5 L488.1 534.9 L488.5 535.5 L488.9 536.1 L489.2 536.8 L489.4 537.6 L489.6 538.2 L489.9 539.0 L490.1 539.8 L490.3 540.7 L490.4 541.4 L490.5 542.1 L490.7 542.8 L490.8 543.6 L491.0 544.5 L491.1 545.4 L491.2 546.3 L491.4 547.3 L491.5 548.4 L491.7 549.5 L491.8 550.7 L491.9 551.3 L491.9 552.0 L492.0 552.6 L492.1 553.3 L492.1 554.0 L492.2 554.8 L492.3 555.5 L492.4 556.3 L492.4 557.1 L492.5 558.0 L492.6 558.9 L492.6 559.8 L492.7 560.7 L492.8 561.7 L492.8 562.7 L492.9 563.8 L493.0 564.9 L493.0 566.1 L493.1 567.3 L493.2 568.6 L493.3 569.9 L493.3 571.3 L493.4 572.8 L493.5 574.4 L493.5 576.0 L493.6 577.8 L493.7 579.6 L493.7 581.7 L493.8 583.8 L493.9 586.1 L493.9 588.7 L494.0 591.4 L494.1 594.5 L494.2 597.9 L494.2 601.7 L494.3 606.2 L494.4 611.3 L494.4 617.6 L494.7 622.1 L495.1 615.2 L495.1 609.4 L495.2 604.6 L495.3 600.5 L495.3 596.8 L495.4 593.6 L495.5 590.7 L495.5 588.0 L495.6 585.6 L495.7 583.4 L495.7 581.3 L495.8 579.4 L495.9 577.6 L496.0 575.9 L496.0 574.3 L496.1 572.9 L496.2 571.4 L496.2 570.1 L496.3 568.8 L496.4 567.6 L496.4 566.4 L496.5 565.3 L496.6 564.3 L496.6 563.3 L496.7 562.3 L496.8 561.4 L496.9 560.5 L496.9 559.6 L497.0 558.8 L497.1 558.0 L497.1 557.2 L497.2 556.5 L497.3 555.8 L497.3 555.1 L497.4 554.4 L497.5 553.8 L497.5 553.2 L497.7 552.0 L497.8 550.9 L498.0 549.9 L498.1 548.9 L498.2 548.0 L498.4 547.2 L498.5 546.5 L498.7 545.7 L498.8 545.1 L498.9 544.5 L499.1 543.7 L499.3 542.9 L499.6 542.3 L499.8 541.6 L500.2 541.0 L500.6 540.6 L500.9 540.5 L501.4 540.7 L501.8 541.2 L502.1 541.9 L502.4 542.7 L502.6 543.4 L502.8 544.2 L503.0 545.1 L503.2 545.8 L503.3 546.5 L503.4 547.3 L503.6 548.1 L503.7 549.0 L503.8 550.0 L504.0 551.1 L504.1 552.2 L504.3 553.4 L504.3 554.1 L504.4 554.7 L504.5 555.4 L504.5 556.1 L504.6 556.9 L504.7 557.6 L504.7 558.5 L504.8 559.3 L504.9 560.2 L505.0 561.1 L505.0 562.0 L505.1 563.0 L505.2 564.0 L505.2 565.1 L505.3 566.2 L505.4 567.4 L505.4 568.7 L505.5 570.0 L505.6 571.3 L505.6 572.8 L505.7 574.3 L505.8 575.9 L505.9 577.6 L505.9 579.5 L506.0 581.4 L506.1 583.6 L506.1 585.8 L506.2 588.3 L506.3 591.0 L506.3 594.0 L506.4 597.4 L506.5 601.1 L506.5 605.4 L506.6 610.5 L506.7 616.5 L507.0 622.1 L507.3 616.3 L507.4 610.3 L507.4 605.3 L507.5 601.1 L507.6 597.4 L507.7 594.1 L507.7 591.2 L507.8 588.5 L507.9 586.1 L507.9 583.9 L508.0 581.8 L508.1 579.9 L508.1 578.1 L508.2 576.4 L508.3 574.8 L508.4 573.3 L508.4 571.9 L508.5 570.6 L508.6 569.3 L508.6 568.1 L508.7 567.0 L508.8 565.9 L508.8 564.9 L508.9 563.9 L509.0 562.9 L509.0 562.0 L509.1 561.2 L509.2 560.3 L509.3 559.5 L509.3 558.8 L509.4 558.1 L509.5 557.4 L509.5 556.7 L509.6 556.0 L509.7 555.4 L509.8 554.3 L509.9 553.2 L510.1 552.2 L510.2 551.3 L510.4 550.5 L510.5 549.8 L510.6 549.1 L510.8 548.5 L511.0 547.7 L511.2 547.0 L511.5 546.3 L511.9 545.7 L512.2 545.5 L512.6 545.7 L513.1 546.5 L513.3 547.2 L513.5 548.0 L513.8 548.9 L513.9 549.5 L514.0 550.3 L514.2 551.1 L514.3 552.0 L514.4 553.0 L514.6 554.0 L514.7 555.2 L514.8 555.8 L514.9 556.5 L514.9 557.1 L515.0 557.8 L515.1 558.6 L515.1 559.3 L515.2 560.1 L515.3 561.0 L515.3 561.8 L515.4 562.8 L515.5 563.7 L515.6 564.7 L515.6 565.8 L515.7 566.9 L515.8 568.0 L515.8 569.3 L515.9 570.5 L516.0 571.9 L516.0 573.3 L516.1 574.9 L516.2 576.5 L516.2 578.2 L516.3 580.0 L516.4 582.0 L516.5 584.1 L516.5 586.5 L516.6 589.0 L516.7 591.7 L516.7 594.8 L516.8 598.2 L516.9 602.0 L516.9 606.5 L517.0 611.7 L517.1 618.0 L517.4 622.1 L517.7 614.9 L517.8 609.2 L517.8 604.4 L517.9 600.3 L518.0 596.7 L518.0 593.5 L518.1 590.7 L518.2 588.1 L518.3 585.7 L518.3 583.5 L518.4 581.5 L518.5 579.6 L518.5 577.9 L518.6 576.3 L518.7 574.7 L518.7 573.3 L518.8 571.9 L518.9 570.6 L518.9 569.4 L519.0 568.3 L519.1 567.2 L519.2 566.1 L519.2 565.2 L519.3 564.2 L519.4 563.3 L519.4 562.5 L519.5 561.7 L519.6 560.9 L519.6 560.2 L519.7 559.5 L519.8 558.8 L519.8 558.2 L519.9 557.5 L520.1 556.4 L520.2 555.4 L520.3 554.5 L520.5 553.7 L520.6 552.9 L520.7 552.3 L521.0 551.4 L521.2 550.8 L521.4 550.2 L521.9 549.8 L521.9 549.8 L522.3 550.2 L522.6 550.8 L522.8 551.4 L523.0 552.3 L523.2 552.9 L523.3 553.7 L523.4 554.5 L523.6 555.5 L523.7 556.5 L523.9 557.7 L523.9 558.3 L524.0 558.9 L524.1 559.6 L524.1 560.3 L524.2 561.1 L524.3 561.9 L524.4 562.7 L524.4 563.6 L524.5 564.5 L524.6 565.5 L524.6 566.5 L524.7 567.6 L524.8 568.7 L524.8 569.9 L524.9 571.2 L525.0 572.6 L525.0 574.0 L525.1 575.5 L525.2 577.1 L525.3 578.8 L525.3 580.7 L525.4 582.7 L525.5 584.8 L525.5 587.2 L525.6 589.7 L525.7 592.5 L525.7 595.6 L525.8 599.1 L525.9 603.1 L525.9 607.7 L526.0 613.1 L526.1 619.8 L526.4 622.1 L526.6 620.1 L526.7 613.4 L526.8 608.0 L526.8 603.4 L526.9 599.4 L527.0 596.0 L527.1 592.9 L527.1 590.1 L527.2 587.6 L527.3 585.3 L527.3 583.2 L527.4 581.2 L527.5 579.4 L527.5 577.7 L527.6 576.1 L527.7 574.6 L527.7 573.3 L527.8 572.0 L527.9 570.7 L528.0 569.6 L528.0 568.5 L528.1 567.4 L528.2 566.5 L528.2 565.5 L528.3 564.6 L528.4 563.8 L528.4 563.0 L528.5 562.3 L528.6 561.6 L528.6 560.9 L528.7 560.3 L528.9 559.1 L529.0 558.1 L529.1 557.2 L529.3 556.4 L529.4 555.7 L529.6 554.8 L529.8 554.2 L530.2 553.6 L530.4 553.6 L530.8 554.0 L531.1 554.8 L531.3 555.7 L531.4 556.4 L531.6 557.2 L531.7 558.1 L531.8 559.1 L532.0 560.3 L532.0 561.0 L532.1 561.6 L532.2 562.4 L532.2 563.1 L532.3 563.9 L532.4 564.8 L532.5 565.7 L532.5 566.6 L532.6 567.7 L532.7 568.7 L532.7 569.9 L532.8 571.1 L532.9 572.3 L532.9 573.7 L533.0 575.1 L533.1 576.7 L533.1 578.3 L533.2 580.1 L533.3 582.0 L533.4 584.0 L533.4 586.2 L533.5 588.7 L533.6 591.3 L533.6 594.3 L533.7 597.6 L533.8 601.3 L533.8 605.6 L533.9 610.6 L534.0 616.7 L534.3 622.1 L534.6 616.2 L534.7 610.3 L534.7 605.4 L534.8 601.2 L534.9 597.5 L534.9 594.3 L535.0 591.4 L535.1 588.8 L535.2 586.4 L535.2 584.3 L535.3 582.3 L535.4 580.4 L535.4 578.7 L535.5 577.1 L535.6 575.6 L535.6 574.2 L535.7 572.9 L535.8 571.7 L535.8 570.5 L535.9 569.5 L536.0 568.5 L536.1 567.5 L536.1 566.6 L536.2 565.8 L536.3 565.0 L536.3 564.2 L536.4 563.5 L536.5 562.9 L536.5 562.2 L536.7 561.1 L536.8 560.1 L537.0 559.3 L537.1 558.6 L537.3 557.8 L537.6 557.1 L537.9 556.9 L538.3 557.4 L538.5 558.1 L538.7 559.0 L538.8 559.8 L539.0 560.8 L539.1 561.8 L539.2 563.1 L539.3 563.7 L539.4 564.5 L539.4 565.3 L539.5 566.1 L539.6 567.0 L539.7 567.9 L539.7 568.9 L539.8 569.9 L539.9 571.1 L539.9 572.3 L540.0 573.5 L540.1 574.9 L540.1 576.4 L540.2 577.9 L540.3 579.6 L540.4 581.4 L540.4 583.4 L540.5 585.5 L540.6 587.9 L540.6 590.4 L540.7 593.2 L540.8 596.4 L540.8 599.9 L540.9 603.9 L541.0 608.6 L541.0 614.2 L541.1 621.2 L541.4 622.1 L541.7 618.8 L541.7 612.4 L541.8 607.2 L541.9 602.8 L541.9 598.9 L542.0 595.6 L542.1 592.6 L542.2 589.9 L542.2 587.5 L542.3 585.2 L542.4 583.2 L542.4 581.3 L542.5 579.6 L542.6 578.0 L542.6 576.5 L542.7 575.1 L542.8 573.8 L542.8 572.6 L542.9 571.5 L543.0 570.4 L543.1 569.5 L543.1 568.5 L543.2 567.7 L543.3 566.9 L543.3 566.1 L543.4 565.4 L543.5 564.8 L543.5 564.2 L543.7 563.1 L543.8 562.2 L544.0 561.4 L544.2 560.6 L544.4 560.0 L544.6 559.9 L545.0 560.5 L545.2 561.2 L545.3 561.9 L545.5 562.8 L545.6 563.8 L545.8 565.0 L545.8 565.7 L545.9 566.4 L546.0 567.2 L546.0 568.0 L546.1 568.9 L546.2 569.9 L546.2 570.9 L546.3 572.0 L546.4 573.2 L546.4 574.5 L546.5 575.8 L546.6 577.3 L546.7 578.9 L546.7 580.6 L546.8 582.4 L546.9 584.4 L546.9 586.6 L547.0 589.0 L547.1 591.6 L547.1 594.5 L547.2 597.8 L547.3 601.5 L547.3 605.7 L547.4 610.7 L547.5 616.8 L547.8 622.1 L548.1 616.2 L548.2 610.3 L548.2 605.4 L548.3 601.3 L548.4 597.7 L548.5 594.5 L548.5 591.6 L548.6 589.1 L548.7 586.8 L548.7 584.6 L548.8 582.7 L548.9 580.9 L548.9 579.3 L549.0 577.8 L549.1 576.4 L549.1 575.0 L549.2 573.8 L549.3 572.7 L549.4 571.7 L549.4 570.7 L549.5 569.8 L549.6 569.0 L549.6 568.2" stroke="#0000ff"/>
</g>
<g stroke="#000" stroke-width="1.6" fill="none">
<line x1="133.3" x2="545" y1="236.8" y2="236.8"/>
<line x1="133.3" x2="545" y1="617.1" y2="617.1"/>
<line x1="134.1" x2="134.1" y1="236.8" y2="617.1"/>
<line x1="134.12" x2="134.12" y1="617.1" y2="621.6"/>
<line x1="134.12" x2="134.12" y1="236.8" y2="232.2"/>
<line x1="146.39" x2="146.39" y1="617.1" y2="621.6"/>
<line x1="146.39" x2="146.39" y1="236.8" y2="232.2"/>
<line x1="156.76" x2="156.76" y1="617.1" y2="621.6"/>
<line x1="156.76" x2="156.76" y1="236.8" y2="232.2"/>
<line x1="165.75" x2="165.75" y1="617.1" y2="621.6"/>
<line x1="165.75" x2="165.75" y1="236.8" y2="232.2"/>
<line x1="173.68" x2="173.68" y1="617.1" y2="621.6"/>
<line x1="173.68" x2="173.68" y1="236.8" y2="232.2"/>
<line x1="180.77" x2="180.77" y1="617.1" y2="625.1"/>
<line x1="180.77" x2="180.77" y1="236.8" y2="228.8"/>
<line x1="227.42" x2="227.42" y1="617.1" y2="621.6"/>
<line x1="227.42" x2="227.42" y1="236.8" y2="232.2"/>
<line x1="254.71" x2="254.71" y1="617.1" y2="621.6"/>
<line x1="254.71" x2="254.71" y1="236.8" y2="232.2"/>
<line x1="274.07" x2="274.07" y1="617.1" y2="621.6"/>
<line x1="274.07" x2="274.07" y1="236.8" y2="232.2"/>
<line x1="289.09" x2="289.09" y1="617.1" y2="621.6"/>
<line x1="289.09" x2="289.09" y1="236.8" y2="232.2"/>
<line x1="301.36" x2="301.36" y1="617.1" y2="621.6"/>
<line x1="301.36" x2="301.36" y1="236.8" y2="232.2"/>
<line x1="311.73" x2="311.73" y1="617.1" y2="621.6"/>
<line x1="311.73" x2="311.73" y1="236.8" y2="232.2"/>
<line x1="320.72" x2="320.72" y1="617.1" y2="621.6"/>
<line x1="320.72" x2="320.72" y1="236.8" y2="232.2"/>
<line x1="328.65" x2="328.65" y1="617.1" y2="621.6"/>
<line x1="328.65" x2="328.65" y1="236.8" y2="232.2"/>
<line x1="335.74" x2="335.74" y1="617.1" y2="625.1"/>
<line x1="335.74" x2="335.74" y1="236.8" y2="228.8"/>
<line x1="382.39" x2="382.39" y1="617.1" y2="621.6"/>
<line x1="382.39" x2="382.39" y1="236.8" y2="232.2"/>
<line x1="409.68" x2="409.68" y1="617.1" y2="621.6"/>
<line x1="409.68" x2="409.68" y1="236.8" y2="232.2"/>
<line x1="429.04" x2="429.04" y1="617.1" y2="621.6"/>
<line x1="429.04" x2="429.04" y1="236.8" y2="232.2"/>
<line x1="444.06" x2="444.06" y1="617.1" y2="621.6"/>
<line x1="444.06" x2="444.06" y1="236.8" y2="232.2"/>
<line x1="456.33" x2="456.33" y1="617.1" y2="621.6"/>
<line x1="456.33" x2="456.33" y1="236.8" y2="232.2"/>
<line x1="466.70" x2="466.70" y1="617.1" y2="621.6"/>
<line x1="466.70" x2="466.70" y1="236.8" y2="232.2"/>
<line x1="475.69" x2="475.69" y1="617.1" y2="621.6"/>
<line x1="475.69" x2="475.69" y1="236.8" y2="232.2"/>
<line x1="483.62" x2="483.62" y1="617.1" y2="621.6"/>
<line x1="483.62" x2="483.62" y1="236.8" y2="232.2"/>
<line x1="490.71" x2="490.71" y1="617.1" y2="625.1"/>
<line x1="490.71" x2="490.71" y1="236.8" y2="228.8"/>
<line x1="537.36" x2="537.36" y1="617.1" y2="621.6"/>
<line x1="537.36" x2="537.36" y1="236.8" y2="232.2"/>
<line x1="134.1" x2="126.1" y1="617.00" y2="617.00"/>
<line x1="134.1" x2="129.8" y1="606.59" y2="606.59"/>
<line x1="134.1" x2="129.8" y1="600.51" y2="600.51"/>
<line x1="134.1" x2="129.8" y1="596.19" y2="596.19"/>
<line x1="134.1" x2="129.8" y1="592.84" y2="592.84"/>
<line x1="134.1" x2="129.8" y1="590.10" y2="590.10"/>
<line x1="134.1" x2="129.8" y1="587.79" y2="587.79"/>
<line x1="134.1" x2="129.8" y1="585.78" y2="585.78"/>
<line x1="134.1" x2="129.8" y1="584.01" y2="584.01"/>
<line x1="134.1" x2="126.1" y1="582.43" y2="582.43"/>
<line x1="134.1" x2="129.8" y1="572.03" y2="572.03"/>
<line x1="134.1" x2="129.8" y1="565.94" y2="565.94"/>
<line x1="134.1" x2="129.8" y1="561.62" y2="561.62"/>
<line x1="134.1" x2="129.8" y1="558.27" y2="558.27"/>
<line x1="134.1" x2="129.8" y1="555.53" y2="555.53"/>
<line x1="134.1" x2="129.8" y1="553.22" y2="553.22"/>
<line x1="134.1" x2="129.8" y1="551.21" y2="551.21"/>
<line x1="134.1" x2="129.8" y1="549.45" y2="549.45"/>
<line x1="134.1" x2="126.1" y1="547.86" y2="547.86"/>
<line x1="134.1" x2="129.8" y1="537.46" y2="537.46"/>
<line x1="134.1" x2="129.8" y1="531.37" y2="531.37"/>
<line x1="134.1" x2="129.8" y1="527.05" y2="527.05"/>
<line x1="134.1" x2="129.8" y1="523.70" y2="523.70"/>
<line x1="134.1" x2="129.8" y1="520.96" y2="520.96"/>
<line x1="134.1" x2="129.8" y1="518.65" y2="518.65"/>
<line x1="134.1" x2="129.8" y1="516.65" y2="516.65"/>
<line x1="134.1" x2="129.8" y1="514.88" y2="514.88"/>
<line x1="134.1" x2="126.1" y1="513.30" y2="513.30"/>
<line x1="134.1" x2="129.8" y1="502.89" y2="502.89"/>
<line x1="134.1" x2="129.8" y1="496.80" y2="496.80"/>
<line x1="134.1" x2="129.8" y1="492.48" y2="492.48"/>
<line x1="134.1" x2="129.8" y1="489.13" y2="489.13"/>
<line x1="134.1" x2="129.8" y1="486.40" y2="486.40"/>
<line x1="134.1" x2="129.8" y1="484.08" y2="484.08"/>
<line x1="134.1" x2="129.8" y1="482.08" y2="482.08"/>
<line x1="134.1" x2="129.8" y1="480.31" y2="480.31"/>
<line x1="134.1" x2="126.1" y1="478.73" y2="478.73"/>
<line x1="134.1" x2="129.8" y1="468.32" y2="468.32"/>
<line x1="134.1" x2="129.8" y1="462.23" y2="462.23"/>
<line x1="134.1" x2="129.8" y1="457.92" y2="457.92"/>
<line x1="134.1" x2="129.8" y1="454.57" y2="454.57"/>
<line x1="134.1" x2="129.8" y1="451.83" y2="451.83"/>
<line x1="134.1" x2="129.8" y1="449.51" y2="449.51"/>
<line x1="134.1" x2="129.8" y1="447.51" y2="447.51"/>
<line x1="134.1" x2="129.8" y1="445.74" y2="445.74"/>
<line x1="134.1" x2="126.1" y1="444.16" y2="444.16"/>
<line x1="134.1" x2="129.8" y1="433.75" y2="433.75"/>
<line x1="134.1" x2="129.8" y1="427.67" y2="427.67"/>
<line x1="134.1" x2="129.8" y1="423.35" y2="423.35"/>
<line x1="134.1" x2="129.8" y1="420.00" y2="420.00"/>
<line x1="134.1" x2="129.8" y1="417.26" y2="417.26"/>
<line x1="134.1" x2="129.8" y1="414.95" y2="414.95"/>
<line x1="134.1" x2="129.8" y1="412.94" y2="412.94"/>
<line x1="134.1" x2="129.8" y1="411.17" y2="411.17"/>
<line x1="134.1" x2="126.1" y1="409.59" y2="409.59"/>
<line x1="134.1" x2="129.8" y1="399.19" y2="399.19"/>
<line x1="134.1" x2="129.8" y1="393.10" y2="393.10"/>
<line x1="134.1" x2="129.8" y1="388.78" y2="388.78"/>
<line x1="134.1" x2="129.8" y1="385.43" y2="385.43"/>
<line x1="134.1" x2="129.8" y1="382.69" y2="382.69"/>
<line x1="134.1" x2="129.8" y1="380.38" y2="380.38"/>
<line x1="134.1" x2="129.8" y1="378.37" y2="378.37"/>
<line x1="134.1" x2="129.8" y1="376.61" y2="376.61"/>
<line x1="134.1" x2="126.1" y1="375.02" y2="375.02"/>
<line x1="134.1" x2="129.8" y1="364.62" y2="364.62"/>
<line x1="134.1" x2="129.8" y1="358.53" y2="358.53"/>
<line x1="134.1" x2="129.8" y1="354.21" y2="354.21"/>
<line x1="134.1" x2="129.8" y1="350.86" y2="350.86"/>
<line x1="134.1" x2="129.8" y1="348.12" y2="348.12"/>
<line x1="134.1" x2="129.8" y1="345.81" y2="345.81"/>
<line x1="134.1" x2="129.8" y1="343.81" y2="343.81"/>
<line x1="134.1" x2="129.8" y1="342.04" y2="342.04"/>
<line x1="134.1" x2="126.1" y1="340.46" y2="340.46"/>
<line x1="134.1" x2="129.8" y1="330.05" y2="330.05"/>
<line x1="134.1" x2="129.8" y1="323.96" y2="323.96"/>
<line x1="134.1" x2="129.8" y1="319.64" y2="319.64"/>
<line x1="134.1" x2="129.8" y1="316.29" y2="316.29"/>
<line x1="134.1" x2="129.8" y1="313.56" y2="313.56"/>
<line x1="134.1" x2="129.8" y1="311.24" y2="311.24"/>
<line x1="134.1" x2="129.8" y1="309.24" y2="309.24"/>
<line x1="134.1" x2="129.8" y1="307.47" y2="307.47"/>
<line x1="134.1" x2="126.1" y1="305.89" y2="305.89"/>
<line x1="134.1" x2="129.8" y1="295.48" y2="295.48"/>
<line x1="134.1" x2="129.8" y1="289.39" y2="289.39"/>
<line x1="134.1" x2="129.8" y1="285.08" y2="285.08"/>
<line x1="134.1" x2="129.8" y1="281.73" y2="281.73"/>
<line x1="134.1" x2="129.8" y1="278.99" y2="278.99"/>
<line x1="134.1" x2="129.8" y1="276.67" y2="276.67"/>
<line x1="134.1" x2="129.8" y1="274.67" y2="274.67"/>
<line x1="134.1" x2="129.8" y1="272.90" y2="272.90"/>
<line x1="134.1" x2="126.1" y1="271.32" y2="271.32"/>
<line x1="134.1" x2="129.8" y1="260.91" y2="260.91"/>
<line x1="134.1" x2="129.8" y1="254.83" y2="254.83"/>
<line x1="134.1" x2="129.8" y1="250.51" y2="250.51"/>
<line x1="134.1" x2="129.8" y1="247.16" y2="247.16"/>
<line x1="134.1" x2="129.8" y1="244.42" y2="244.42"/>
<line x1="134.1" x2="129.8" y1="242.11" y2="242.11"/>
<line x1="134.1" x2="129.8" y1="240.10" y2="240.10"/>
<line x1="134.1" x2="129.8" y1="238.33" y2="238.33"/>
<line x1="134.1" x2="126.1" y1="236.75" y2="236.75"/>
</g>
<rect x="407.7" y="237" width="150" height="68.2" fill="#fff" stroke="#000" stroke-width="1"/>
<line x1="418.4" x2="459.8" y1="249.9" y2="249.9" stroke="#000" stroke-width="1.7"/>
<line x1="418.4" x2="459.8" y1="272.4" y2="272.4" stroke="#ff0000" stroke-width="1.7"/>
<line x1="418.4" x2="459.8" y1="294.8" y2="294.8" stroke="#0000ff" stroke-width="1.7"/>
</svg>
<svg width="545" height="705" viewBox="0 0 545 705" style="position:absolute;left:0;top:0;will-change:transform;font-family:'Liberation Sans',sans-serif" fill="#000">
<text transform="translate(181.4 640.9) scale(0.9 1)" font-size="15.2" text-anchor="middle">1</text>
<text transform="translate(336.3 640.9) scale(0.9 1)" font-size="15.2" text-anchor="middle">10</text>
<text transform="translate(491.3 640.9) scale(0.9 1)" font-size="15.2" text-anchor="middle">100</text>
<text transform="translate(122.3 277.1) scale(0.925 1)" font-size="15.2" text-anchor="end">10<tspan font-size="9.4" dy="-7.9">0</tspan></text>
<text transform="translate(122.3 346.3) scale(0.925 1)" font-size="15.2" text-anchor="end">10<tspan font-size="9.4" dy="-7.9">-2</tspan></text>
<text transform="translate(122.3 415.4) scale(0.925 1)" font-size="15.2" text-anchor="end">10<tspan font-size="9.4" dy="-7.9">-4</tspan></text>
<text transform="translate(122.3 484.5) scale(0.925 1)" font-size="15.2" text-anchor="end">10<tspan font-size="9.4" dy="-7.9">-6</tspan></text>
<text transform="translate(122.3 553.7) scale(0.925 1)" font-size="15.2" text-anchor="end">10<tspan font-size="9.4" dy="-7.9">-8</tspan></text>
<text transform="translate(122.3 622.8) scale(0.925 1)" font-size="15.2" text-anchor="end">10<tspan font-size="9.4" dy="-7.9">-10</tspan></text>
<text x="464.6" y="255.8" font-size="17.5" letter-spacing="0.33">single speedmeter</text>
<text x="464.6" y="278.3" font-size="17.5" letter-spacing="0.07">differential speedmeter</text>
<text x="464.6" y="300.7" font-size="17.5" letter-spacing="0.07">differential speedmeter</text>
<text x="315" y="673.9" font-size="23">frequency (Hz)</text>
<text transform="translate(63.4 558.3) rotate(-90)" font-size="23.2">Normalized transfer function</text>
</svg>
</body></html>
